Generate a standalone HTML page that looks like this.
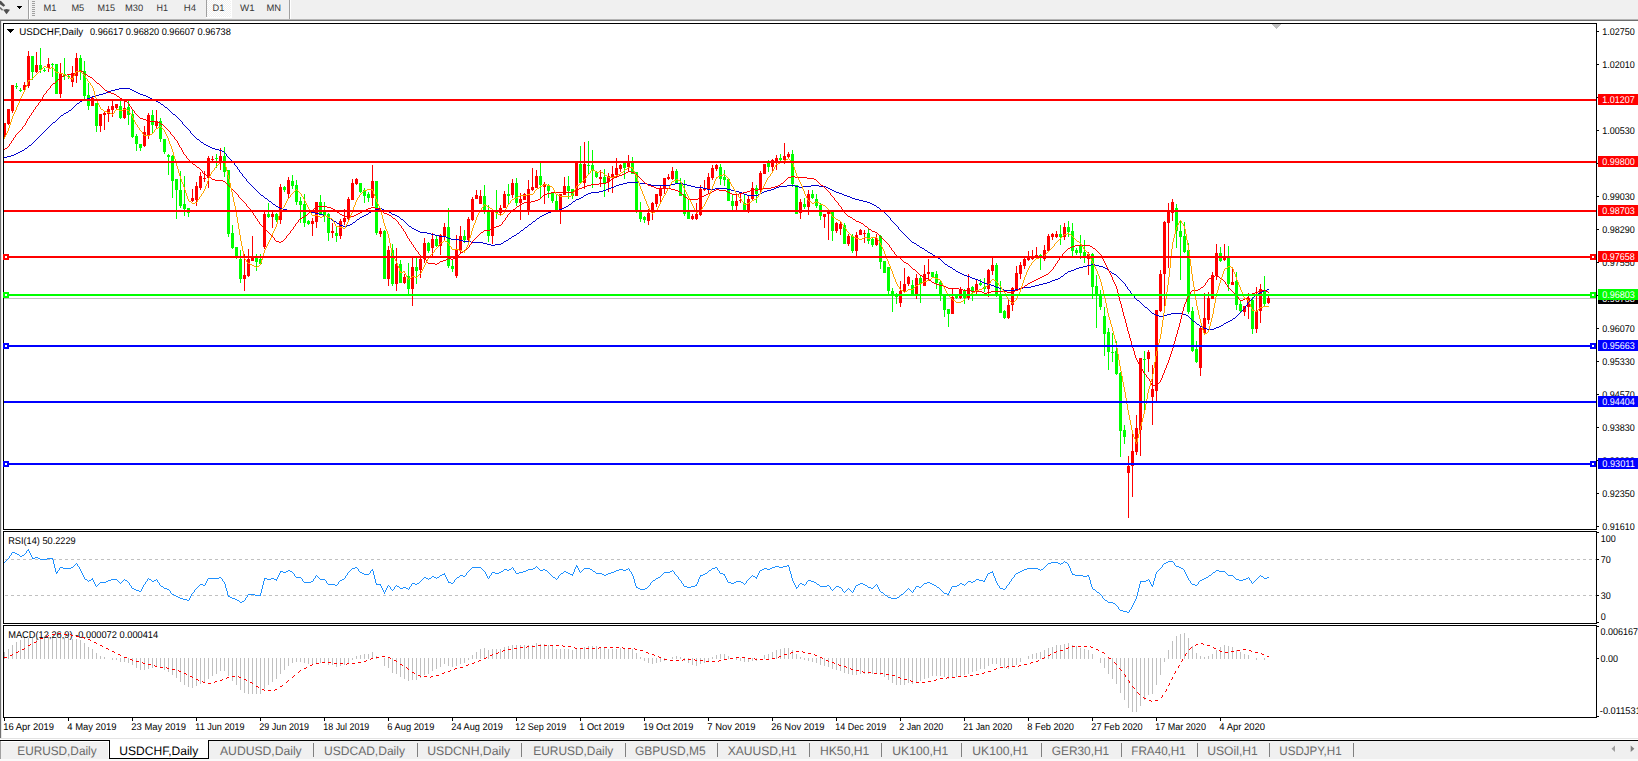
<!DOCTYPE html>
<html><head><meta charset="utf-8"><title>USDCHF,Daily</title>
<style>
html,body{margin:0;padding:0;background:#fff;overflow:hidden}
svg{display:block;font-family:"Liberation Sans", "DejaVu Sans", sans-serif;shape-rendering:crispEdges}
text{white-space:pre;text-rendering:geometricPrecision}
</style></head><body>
<svg width="1638" height="761" viewBox="0 0 1638 761">
<rect x="0" y="0" width="1638" height="761" fill="#ffffff"/>
<rect x="0" y="0" width="1638" height="19" fill="#f0f0f0"/>
<rect x="0" y="19" width="1638" height="1" fill="#b4b4b4"/>
<rect x="0" y="20" width="1638" height="1" fill="#6d6d6d"/>
<rect x="0" y="21" width="1" height="717" fill="#707070"/>
<rect x="1" y="21" width="1" height="717" fill="#e8e8e8"/>
<g shape-rendering="geometricPrecision"><path d="M-1 1.5 L0.8 0.8 L5.2 5.2 L3.6 6.8 L-1 3.4 Z" fill="#505050"/><path d="M0 7.6 L2.6 10.2" stroke="#707070" stroke-width="1.6"/><path d="M3.2 9.8 L6.5 9 L10 9.8 L6.5 14.2 Z" fill="#505050"/></g>
<path d="M17 6 L22 6 L19.5 9 Z" fill="#000"/>
<rect x="28" y="0" width="1" height="19" fill="#a0a0a0"/>
<rect x="29" y="0" width="1" height="19" fill="#ffffff"/>
<rect x="32" y="1" width="3" height="1" fill="#a0a0a0"/>
<rect x="32" y="3" width="3" height="1" fill="#a0a0a0"/>
<rect x="32" y="5" width="3" height="1" fill="#a0a0a0"/>
<rect x="32" y="7" width="3" height="1" fill="#a0a0a0"/>
<rect x="32" y="9" width="3" height="1" fill="#a0a0a0"/>
<rect x="32" y="11" width="3" height="1" fill="#a0a0a0"/>
<rect x="32" y="13" width="3" height="1" fill="#a0a0a0"/>
<rect x="32" y="15" width="3" height="1" fill="#a0a0a0"/>
<pattern id="chk" width="2" height="2" patternUnits="userSpaceOnUse"><rect width="2" height="2" fill="#f0f0f0"/><rect width="1" height="1" fill="#fff"/><rect x="1" y="1" width="1" height="1" fill="#fff"/></pattern>
<rect x="206" y="0" width="1" height="17" fill="#a0a0a0"/>
<rect x="207" y="0" width="24" height="17" fill="url(#chk)"/>
<rect x="231" y="0" width="1" height="18" fill="#fff"/>
<rect x="206" y="17" width="26" height="1" fill="#fff"/>
<rect x="289" y="0" width="1" height="19" fill="#a0a0a0"/>
<rect x="290" y="0" width="1" height="19" fill="#ffffff"/>
<text x="43.4" y="10.9" font-size="9.3" fill="#383838" text-anchor="start" textLength="13" lengthAdjust="spacingAndGlyphs">M1</text>
<text x="71.4" y="10.9" font-size="9.3" fill="#383838" text-anchor="start" textLength="12.8" lengthAdjust="spacingAndGlyphs">M5</text>
<text x="97.4" y="10.9" font-size="9.3" fill="#383838" text-anchor="start" textLength="17.6" lengthAdjust="spacingAndGlyphs">M15</text>
<text x="125" y="10.9" font-size="9.3" fill="#383838" text-anchor="start" textLength="18.2" lengthAdjust="spacingAndGlyphs">M30</text>
<text x="156.6" y="10.9" font-size="9.3" fill="#383838" text-anchor="start" textLength="11.5" lengthAdjust="spacingAndGlyphs">H1</text>
<text x="183.7" y="10.9" font-size="9.3" fill="#383838" text-anchor="start" textLength="12.3" lengthAdjust="spacingAndGlyphs">H4</text>
<text x="212.5" y="10.9" font-size="9.3" fill="#383838" text-anchor="start" textLength="11.9" lengthAdjust="spacingAndGlyphs">D1</text>
<text x="240" y="10.9" font-size="9.3" fill="#383838" text-anchor="start" textLength="14.6" lengthAdjust="spacingAndGlyphs">W1</text>
<text x="266.5" y="10.9" font-size="9.3" fill="#383838" text-anchor="start" textLength="14.6" lengthAdjust="spacingAndGlyphs">MN</text>
<rect x="3" y="23" width="1594" height="1" fill="#000"/>
<rect x="3" y="529" width="1594" height="1" fill="#000"/>
<rect x="3" y="23" width="1" height="507" fill="#000"/>
<rect x="3" y="531" width="1594" height="1" fill="#000"/>
<rect x="3" y="623" width="1594" height="1" fill="#000"/>
<rect x="3" y="531" width="1" height="93" fill="#000"/>
<rect x="3" y="625" width="1594" height="1" fill="#000"/>
<rect x="3" y="717" width="1594" height="1" fill="#000"/>
<rect x="3" y="625" width="1" height="93" fill="#000"/>
<rect x="1596" y="23" width="1" height="507" fill="#000"/>
<rect x="1596" y="531" width="1" height="93" fill="#000"/>
<rect x="1596" y="625" width="1" height="93" fill="#000"/>
<rect x="4" y="298" width="1592" height="1" fill="#c0c0c0"/>
<path d="M1271 24 L1281 24 L1276 29 Z" fill="#c0c0c0"/>
<path d="M4 123h1v16h-1zM4 123h2v12h-2zM8 109h1v16h-1zM7 109h3v15h-3zM12 85h1v28h-1zM11 85h3v26h-3zM24 82h1v8h-1zM23 85h3v5h-3zM28 51h1v37h-1zM27 56h3v30h-3zM36 52h1v21h-1zM35 65h3v7h-3zM48 58h1v14h-1zM47 64h3v4h-3zM60 63h1v35h-1zM59 74h3v20h-3zM72 66h1v21h-1zM71 73h3v9h-3zM76 53h1v30h-1zM75 58h3v18h-3zM92 96h1v10h-1zM91 98h3v8h-3zM100 114h1v18h-1zM99 114h3v12h-3zM104 112h1v18h-1zM103 113h3v2h-3zM108 106h1v16h-1zM107 109h3v5h-3zM112 101h1v16h-1zM111 106h3v4h-3zM116 104h1v5h-1zM115 104h3v4h-3zM124 101h1v18h-1zM123 108h3v10h-3zM144 126h1v21h-1zM143 132h3v14h-3zM148 113h1v26h-1zM147 115h3v21h-3zM156 110h1v18h-1zM155 121h3v5h-3zM192 189h1v13h-1zM191 198h3v3h-3zM196 182h1v24h-1zM195 186h3v14h-3zM200 172h1v18h-1zM199 176h3v12h-3zM204 171h1v11h-1zM203 178h3v1h-3zM208 156h1v32h-1zM207 158h3v20h-3zM212 156h1v5h-1zM211 159h3v1h-3zM220 148h1v22h-1zM219 156h3v7h-3zM244 254h1v37h-1zM243 275h3v4h-3zM248 249h1v28h-1zM247 259h3v17h-3zM252 236h1v25h-1zM251 258h3v3h-3zM264 212h1v37h-1zM263 214h3v33h-3zM272 212h1v16h-1zM271 214h3v3h-3zM280 184h1v40h-1zM279 187h3v33h-3zM288 177h1v21h-1zM287 180h3v14h-3zM312 218h1v18h-1zM311 221h3v3h-3zM316 202h1v26h-1zM315 202h3v20h-3zM332 223h1v15h-1zM331 231h3v2h-3zM340 219h1v20h-1zM339 221h3v15h-3zM344 209h1v16h-1zM343 218h3v4h-3zM348 197h1v23h-1zM347 199h3v20h-3zM352 179h1v21h-1zM351 183h3v17h-3zM356 178h1v7h-1zM355 179h3v5h-3zM372 165h1v41h-1zM371 181h3v17h-3zM380 228h1v9h-1zM379 231h3v3h-3zM388 246h1v40h-1zM387 250h3v29h-3zM396 248h1v43h-1zM395 264h3v20h-3zM404 274h1v10h-1zM403 277h3v6h-3zM412 258h1v48h-1zM411 267h3v22h-3zM420 258h1v20h-1zM419 259h3v11h-3zM424 238h1v25h-1zM423 243h3v16h-3zM432 233h1v23h-1zM431 239h3v9h-3zM440 234h1v21h-1zM439 235h3v11h-3zM444 223h1v17h-1zM443 227h3v10h-3zM456 235h1v43h-1zM455 250h3v26h-3zM460 226h1v28h-1zM459 236h3v15h-3zM468 217h1v24h-1zM467 219h3v21h-3zM472 197h1v24h-1zM471 199h3v21h-3zM476 190h1v9h-1zM475 195h3v4h-3zM480 190h1v14h-1zM479 196h3v8h-3zM492 210h1v34h-1zM491 210h3v26h-3zM500 205h1v11h-1zM499 208h3v5h-3zM504 191h1v17h-1zM503 194h3v14h-3zM512 179h1v19h-1zM511 183h3v12h-3zM520 193h1v27h-1zM519 199h3v4h-3zM524 193h1v7h-1zM523 194h3v6h-3zM528 180h1v35h-1zM527 189h3v21h-3zM532 168h1v23h-1zM531 187h3v3h-3zM536 170h1v18h-1zM535 176h3v12h-3zM544 182h1v22h-1zM543 184h3v3h-3zM560 194h1v30h-1zM559 194h3v15h-3zM564 177h1v18h-1zM563 186h3v9h-3zM576 163h1v33h-1zM575 163h3v33h-3zM584 142h1v47h-1zM583 164h3v19h-3zM600 170h1v17h-1zM599 177h3v2h-3zM608 173h1v19h-1zM607 176h3v6h-3zM612 166h1v27h-1zM611 174h3v3h-3zM616 158h1v20h-1zM615 168h3v7h-3zM620 164h1v8h-1zM619 165h3v4h-3zM628 155h1v16h-1zM627 162h3v5h-3zM648 209h1v16h-1zM647 213h3v8h-3zM652 202h1v18h-1zM651 203h3v10h-3zM656 194h1v13h-1zM655 194h3v10h-3zM660 185h1v18h-1zM659 188h3v8h-3zM664 178h1v16h-1zM663 178h3v11h-3zM668 174h1v6h-1zM667 177h3v2h-3zM672 167h1v13h-1zM671 171h3v8h-3zM692 214h1v6h-1zM691 216h3v3h-3zM696 203h1v17h-1zM695 214h3v5h-3zM700 185h1v31h-1zM699 189h3v26h-3zM704 180h1v11h-1zM703 188h3v2h-3zM708 173h1v20h-1zM707 177h3v12h-3zM712 165h1v15h-1zM711 168h3v10h-3zM716 164h1v7h-1zM715 165h3v4h-3zM736 194h1v16h-1zM735 201h3v5h-3zM740 193h1v10h-1zM739 200h3v1h-3zM748 196h1v17h-1zM747 199h3v12h-3zM752 182h1v19h-1zM751 188h3v11h-3zM760 171h1v22h-1zM759 173h3v17h-3zM764 164h1v10h-1zM763 164h3v10h-3zM772 159h1v12h-1zM771 160h3v7h-3zM776 155h1v15h-1zM775 158h3v5h-3zM784 143h1v21h-1zM783 156h3v4h-3zM788 152h1v6h-1zM787 154h3v3h-3zM800 199h1v20h-1zM799 202h3v11h-3zM808 190h1v25h-1zM807 194h3v13h-3zM824 214h1v14h-1zM823 214h3v3h-3zM828 211h1v29h-1zM827 212h3v2h-3zM836 222h1v11h-1zM835 223h3v8h-3zM840 222h1v13h-1zM839 224h3v5h-3zM848 234h1v12h-1zM847 236h3v8h-3zM856 232h1v24h-1zM855 235h3v16h-3zM860 229h1v6h-1zM859 230h3v5h-3zM864 230h1v13h-1zM863 233h3v1h-3zM876 234h1v12h-1zM875 238h3v7h-3zM900 281h1v26h-1zM899 291h3v12h-3zM904 268h1v25h-1zM903 284h3v7h-3zM908 276h1v10h-1zM907 277h3v7h-3zM916 274h1v25h-1zM915 278h3v16h-3zM924 265h1v21h-1zM923 274h3v12h-3zM928 259h1v20h-1zM927 272h3v2h-3zM952 288h1v26h-1zM951 297h3v17h-3zM960 287h1v12h-1zM959 290h3v8h-3zM968 274h1v26h-1zM967 288h3v10h-3zM976 280h1v14h-1zM975 284h3v7h-3zM988 269h1v28h-1zM987 270h3v19h-3zM992 258h1v17h-1zM991 265h3v6h-3zM1008 300h1v19h-1zM1007 305h3v13h-3zM1012 287h1v24h-1zM1011 288h3v17h-3zM1016 266h1v24h-1zM1015 273h3v17h-3zM1020 262h1v17h-1zM1019 265h3v9h-3zM1024 258h1v11h-1zM1023 259h3v7h-3zM1028 251h1v10h-1zM1027 256h3v4h-3zM1032 250h1v10h-1zM1031 256h3v3h-3zM1036 247h1v11h-1zM1035 255h3v3h-3zM1044 245h1v16h-1zM1043 250h3v9h-3zM1048 234h1v17h-1zM1047 236h3v15h-3zM1052 233h1v7h-1zM1051 234h3v3h-3zM1056 231h1v7h-1zM1055 234h3v3h-3zM1064 223h1v17h-1zM1063 227h3v10h-3zM1088 252h1v23h-1zM1087 254h3v5h-3zM1128 456h1v62h-1zM1127 466h3v7h-3zM1132 433h1v64h-1zM1131 451h3v15h-3zM1136 415h1v40h-1zM1135 428h3v24h-3zM1140 358h1v98h-1zM1139 358h3v72h-3zM1148 350h1v22h-1zM1147 352h3v7h-3zM1152 365h1v60h-1zM1151 389h3v8h-3zM1156 310h1v91h-1zM1155 310h3v81h-3zM1160 270h1v42h-1zM1159 274h3v37h-3zM1164 221h1v86h-1zM1163 222h3v52h-3zM1168 203h1v65h-1zM1167 210h3v13h-3zM1172 199h1v22h-1zM1171 202h3v11h-3zM1200 327h1v49h-1zM1199 328h3v40h-3zM1204 293h1v41h-1zM1203 318h3v15h-3zM1208 292h1v32h-1zM1207 298h3v22h-3zM1212 272h1v27h-1zM1211 275h3v24h-3zM1216 244h1v36h-1zM1215 253h3v23h-3zM1224 244h1v17h-1zM1223 258h3v2h-3zM1232 269h1v16h-1zM1231 282h3v3h-3zM1244 306h1v10h-1zM1243 306h3v6h-3zM1248 293h1v26h-1zM1247 298h3v9h-3zM1256 287h1v46h-1zM1255 311h3v18h-3zM1260 284h1v39h-1zM1259 289h3v22h-3zM1268 294h1v10h-1zM1267 298h3v5h-3z" fill="#ff0000"/>
<path d="M16 83h1v6h-1zM15 86h3v1h-3zM20 88h1v4h-1zM19 90h3v1h-3zM32 56h1v24h-1zM31 56h3v16h-3zM40 48h1v25h-1zM39 65h3v5h-3zM44 68h1v4h-1zM43 70h3v1h-3zM52 63h1v14h-1zM51 64h3v1h-3zM56 64h1v30h-1zM55 64h3v30h-3zM64 58h1v22h-1zM63 74h3v2h-3zM68 74h1v5h-1zM67 76h3v1h-3zM80 55h1v25h-1zM79 58h3v13h-3zM84 61h1v38h-1zM83 71h3v25h-3zM88 83h1v27h-1zM87 95h3v11h-3zM96 103h1v29h-1zM95 103h3v23h-3zM120 99h1v20h-1zM119 106h3v12h-3zM128 101h1v24h-1zM127 107h3v8h-3zM132 110h1v28h-1zM131 114h3v23h-3zM136 134h1v17h-1zM135 136h3v8h-3zM140 144h1v7h-1zM139 144h3v4h-3zM152 110h1v23h-1zM151 115h3v10h-3zM160 118h1v24h-1zM159 121h3v18h-3zM164 139h1v15h-1zM163 139h3v13h-3zM168 154h1v21h-1zM167 155h3v2h-3zM172 155h1v43h-1zM171 156h3v25h-3zM176 179h1v40h-1zM175 179h3v11h-3zM180 171h1v37h-1zM179 190h3v16h-3zM184 176h1v40h-1zM183 204h3v5h-3zM188 208h1v9h-1zM187 208h3v5h-3zM216 154h1v14h-1zM215 158h3v1h-3zM224 147h1v30h-1zM223 156h3v16h-3zM228 170h1v67h-1zM227 170h3v64h-3zM232 225h1v24h-1zM231 233h3v15h-3zM236 247h1v12h-1zM235 247h3v9h-3zM240 250h1v33h-1zM239 259h3v20h-3zM256 254h1v17h-1zM255 258h3v4h-3zM260 254h1v10h-1zM259 259h3v5h-3zM268 203h1v15h-1zM267 214h3v3h-3zM276 213h1v9h-1zM275 214h3v6h-3zM284 186h1v6h-1zM283 187h3v3h-3zM292 175h1v14h-1zM291 181h3v5h-3zM296 180h1v25h-1zM295 185h3v17h-3zM300 197h1v26h-1zM299 201h3v4h-3zM304 194h1v33h-1zM303 204h3v19h-3zM308 220h1v5h-1zM307 221h3v3h-3zM320 195h1v20h-1zM319 202h3v12h-3zM324 202h1v20h-1zM323 212h3v3h-3zM328 213h1v28h-1zM327 214h3v19h-3zM336 226h1v16h-1zM335 233h3v3h-3zM360 183h1v10h-1zM359 183h3v9h-3zM364 188h1v15h-1zM363 190h3v6h-3zM368 192h1v10h-1zM367 194h3v4h-3zM376 181h1v54h-1zM375 181h3v52h-3zM384 230h1v49h-1zM383 231h3v48h-3zM392 244h1v42h-1zM391 250h3v34h-3zM400 260h1v23h-1zM399 264h3v19h-3zM408 263h1v31h-1zM407 276h3v13h-3zM416 258h1v26h-1zM415 267h3v4h-3zM428 242h1v11h-1zM427 243h3v8h-3zM436 236h1v11h-1zM435 239h3v7h-3zM448 208h1v60h-1zM447 227h3v39h-3zM452 259h1v13h-1zM451 266h3v3h-3zM464 230h1v13h-1zM463 236h3v4h-3zM484 185h1v29h-1zM483 196h3v14h-3zM488 205h1v37h-1zM487 212h3v24h-3zM496 190h1v29h-1zM495 212h3v1h-3zM508 184h1v20h-1zM507 194h3v2h-3zM516 178h1v28h-1zM515 183h3v20h-3zM540 163h1v35h-1zM539 176h3v9h-3zM548 184h1v14h-1zM547 185h3v6h-3zM552 192h1v11h-1zM551 192h3v9h-3zM556 195h1v15h-1zM555 201h3v9h-3zM568 176h1v23h-1zM567 186h3v5h-3zM572 189h1v10h-1zM571 189h3v7h-3zM580 146h1v37h-1zM579 164h3v19h-3zM588 141h1v33h-1zM587 165h3v1h-3zM592 150h1v38h-1zM591 165h3v5h-3zM596 171h1v7h-1zM595 172h3v5h-3zM604 169h1v28h-1zM603 177h3v6h-3zM624 163h1v16h-1zM623 163h3v5h-3zM632 157h1v17h-1zM631 163h3v11h-3zM636 172h1v41h-1zM635 172h3v39h-3zM640 202h1v20h-1zM639 211h3v8h-3zM644 216h1v7h-1zM643 217h3v3h-3zM676 169h1v14h-1zM675 171h3v12h-3zM680 178h1v18h-1zM679 183h3v13h-3zM684 180h1v36h-1zM683 194h3v20h-3zM688 200h1v19h-1zM687 212h3v7h-3zM720 164h1v21h-1zM719 167h3v12h-3zM724 170h1v16h-1zM723 177h3v3h-3zM728 179h1v22h-1zM727 179h3v22h-3zM732 195h1v15h-1zM731 201h3v5h-3zM744 194h1v16h-1zM743 203h3v7h-3zM756 185h1v18h-1zM755 188h3v6h-3zM768 160h1v12h-1zM767 163h3v4h-3zM780 154h1v7h-1zM779 158h3v2h-3zM792 150h1v37h-1zM791 154h3v30h-3zM796 185h1v29h-1zM795 185h3v29h-3zM804 198h1v11h-1zM803 204h3v3h-3zM812 190h1v9h-1zM811 194h3v4h-3zM816 194h1v14h-1zM815 199h3v7h-3zM820 203h1v17h-1zM819 205h3v11h-3zM832 212h1v29h-1zM831 212h3v19h-3zM844 223h1v21h-1zM843 225h3v19h-3zM852 234h1v19h-1zM851 236h3v15h-3zM868 229h1v15h-1zM867 233h3v8h-3zM872 238h1v9h-1zM871 239h3v6h-3zM880 235h1v34h-1zM879 236h3v26h-3zM884 261h1v12h-1zM883 261h3v12h-3zM888 267h1v27h-1zM887 267h3v24h-3zM892 288h1v24h-1zM891 291h3v4h-3zM896 293h1v11h-1zM895 295h3v2h-3zM912 280h1v14h-1zM911 285h3v9h-3zM920 275h1v28h-1zM919 278h3v6h-3zM932 272h1v5h-1zM931 272h3v5h-3zM936 271h1v18h-1zM935 274h3v9h-3zM940 280h1v21h-1zM939 282h3v12h-3zM944 294h1v23h-1zM943 295h3v15h-3zM948 309h1v18h-1zM947 309h3v5h-3zM956 296h1v3h-1zM955 296h3v2h-3zM964 289h1v15h-1zM963 291h3v7h-3zM972 286h1v15h-1zM971 287h3v4h-3zM980 279h1v7h-1zM979 283h3v2h-3zM984 278h1v14h-1zM983 287h3v2h-3zM996 263h1v34h-1zM995 265h3v29h-3zM1000 281h1v32h-1zM999 294h3v19h-3zM1004 310h1v9h-1zM1003 311h3v7h-3zM1040 254h1v16h-1zM1039 255h3v3h-3zM1060 225h1v20h-1zM1059 234h3v3h-3zM1068 221h1v16h-1zM1067 227h3v5h-3zM1072 223h1v33h-1zM1071 231h3v20h-3zM1076 248h1v7h-1zM1075 250h3v3h-3zM1080 235h1v24h-1zM1079 245h3v8h-3zM1084 240h1v23h-1zM1083 252h3v4h-3zM1092 253h1v46h-1zM1091 254h3v33h-3zM1096 275h1v53h-1zM1095 286h3v8h-3zM1100 290h1v20h-1zM1099 294h3v13h-3zM1104 307h1v49h-1zM1103 316h3v18h-3zM1108 328h1v42h-1zM1107 332h3v20h-3zM1112 333h1v29h-1zM1111 352h3v1h-3zM1116 341h1v34h-1zM1115 351h3v23h-3zM1120 372h1v85h-1zM1119 373h3v58h-3zM1124 425h1v19h-1zM1123 430h3v7h-3zM1144 351h1v59h-1zM1143 359h3v1h-3zM1176 204h1v44h-1zM1175 208h3v23h-3zM1180 220h1v60h-1zM1179 231h3v6h-3zM1184 222h1v31h-1zM1183 236h3v16h-3zM1188 243h1v71h-1zM1187 250h3v62h-3zM1192 307h1v45h-1zM1191 311h3v40h-3zM1196 341h1v22h-1zM1195 349h3v13h-3zM1220 247h1v15h-1zM1219 253h3v8h-3zM1228 246h1v45h-1zM1227 258h3v26h-3zM1236 272h1v38h-1zM1235 281h3v24h-3zM1240 300h1v12h-1zM1239 304h3v7h-3zM1252 297h1v37h-1zM1251 300h3v29h-3zM1264 276h1v30h-1zM1263 291h3v13h-3z" fill="#00ff00"/>
<path d="M182 122h1v2h-1zM190 131h1v2h-1zM226 154h1v2h-1zM234 163h1v2h-1zM237 167h1v2h-1zM239 170h1v2h-1zM242 174h1v2h-1zM246 179h1v2h-1zM890 218h1v2h-1zM898 227h1v2h-1zM1125 284h1v2h-1zM1127 287h1v2h-1zM1130 291h1v2h-1zM1134 296h1v2h-1zM1245 306h1v2h-1zM1247 303h1v2h-1zM119 88h11v1h-11zM115 89h4v1h-4zM130 89h2v1h-2zM111 90h4v1h-4zM132 90h2v1h-2zM108 91h3v1h-3zM134 91h2v1h-2zM106 92h2v1h-2zM136 92h2v1h-2zM103 93h3v1h-3zM138 93h2v1h-2zM99 94h4v1h-4zM140 94h3v1h-3zM95 95h4v1h-4zM143 95h3v1h-3zM92 96h3v1h-3zM146 96h2v1h-2zM90 97h2v1h-2zM148 97h2v1h-2zM87 98h3v1h-3zM150 98h2v1h-2zM84 99h3v1h-3zM152 99h2v1h-2zM82 100h2v1h-2zM154 100h2v1h-2zM80 101h2v1h-2zM156 101h2v1h-2zM79 102h1v1h-1zM158 102h2v1h-2zM77 103h2v1h-2zM160 103h1v1h-1zM76 104h1v1h-1zM161 104h2v1h-2zM75 105h1v1h-1zM163 105h1v1h-1zM74 106h1v1h-1zM164 106h1v1h-1zM73 107h1v1h-1zM165 107h2v1h-2zM72 108h1v1h-1zM167 108h1v1h-1zM71 109h1v1h-1zM168 109h1v1h-1zM69 110h2v1h-2zM169 110h1v1h-1zM68 111h1v1h-1zM170 111h1v1h-1zM66 112h2v1h-2zM171 112h1v1h-1zM64 113h2v1h-2zM172 113h1v1h-1zM63 114h1v1h-1zM173 114h2v1h-2zM61 115h2v1h-2zM175 115h1v1h-1zM60 116h1v1h-1zM176 116h1v1h-1zM59 117h1v1h-1zM177 117h1v1h-1zM58 118h1v1h-1zM178 118h1v1h-1zM57 119h1v1h-1zM179 119h1v1h-1zM56 120h1v1h-1zM180 120h1v1h-1zM55 121h1v1h-1zM181 121h1v1h-1zM53 122h2v1h-2zM52 123h1v1h-1zM51 124h1v1h-1zM183 124h1v1h-1zM50 125h1v1h-1zM184 125h1v1h-1zM49 126h1v1h-1zM185 126h1v1h-1zM48 127h1v1h-1zM186 127h1v1h-1zM47 128h1v1h-1zM187 128h1v1h-1zM46 129h1v1h-1zM188 129h1v1h-1zM45 130h1v1h-1zM189 130h1v1h-1zM44 131h1v1h-1zM43 132h1v1h-1zM42 133h1v1h-1zM191 133h1v1h-1zM41 134h1v1h-1zM192 134h1v1h-1zM40 135h1v1h-1zM193 135h1v1h-1zM39 136h1v1h-1zM194 136h1v1h-1zM38 137h1v1h-1zM195 137h1v1h-1zM37 138h1v1h-1zM196 138h1v1h-1zM36 139h1v1h-1zM197 139h2v1h-2zM35 140h1v1h-1zM199 140h1v1h-1zM34 141h1v1h-1zM200 141h1v1h-1zM33 142h1v1h-1zM201 142h2v1h-2zM32 143h1v1h-1zM203 143h1v1h-1zM31 144h1v1h-1zM204 144h2v1h-2zM29 145h2v1h-2zM206 145h2v1h-2zM28 146h1v1h-1zM208 146h2v1h-2zM27 147h1v1h-1zM210 147h2v1h-2zM25 148h2v1h-2zM212 148h3v1h-3zM24 149h1v1h-1zM215 149h4v1h-4zM22 150h2v1h-2zM219 150h3v1h-3zM20 151h2v1h-2zM222 151h2v1h-2zM18 152h2v1h-2zM224 152h1v1h-1zM16 153h2v1h-2zM225 153h1v1h-1zM14 154h2v1h-2zM11 155h3v1h-3zM7 156h4v1h-4zM227 156h1v1h-1zM4 157h3v1h-3zM228 157h1v1h-1zM229 158h1v1h-1zM230 159h1v1h-1zM231 160h1v1h-1zM232 161h1v1h-1zM233 162h1v1h-1zM235 165h1v1h-1zM236 166h1v1h-1zM238 169h1v1h-1zM240 172h1v1h-1zM241 173h1v1h-1zM243 176h1v1h-1zM244 177h1v1h-1zM245 178h1v1h-1zM247 181h1v1h-1zM248 182h1v1h-1zM627 182h12v1h-12zM249 183h1v1h-1zM623 183h4v1h-4zM639 183h8v1h-8zM675 183h8v1h-8zM250 184h1v1h-1zM619 184h4v1h-4zM647 184h4v1h-4zM671 184h4v1h-4zM683 184h4v1h-4zM251 185h1v1h-1zM616 185h3v1h-3zM651 185h20v1h-20zM687 185h4v1h-4zM787 185h8v1h-8zM811 185h8v1h-8zM252 186h1v1h-1zM614 186h2v1h-2zM691 186h4v1h-4zM779 186h8v1h-8zM795 186h4v1h-4zM803 186h8v1h-8zM819 186h7v1h-7zM253 187h1v1h-1zM611 187h3v1h-3zM695 187h8v1h-8zM776 187h3v1h-3zM799 187h4v1h-4zM826 187h2v1h-2zM254 188h1v1h-1zM608 188h3v1h-3zM703 188h4v1h-4zM715 188h12v1h-12zM774 188h2v1h-2zM828 188h2v1h-2zM255 189h1v1h-1zM606 189h2v1h-2zM707 189h8v1h-8zM727 189h4v1h-4zM771 189h3v1h-3zM830 189h2v1h-2zM256 190h1v1h-1zM603 190h3v1h-3zM731 190h4v1h-4zM767 190h4v1h-4zM832 190h2v1h-2zM257 191h1v1h-1zM599 191h4v1h-4zM735 191h4v1h-4zM764 191h3v1h-3zM834 191h2v1h-2zM258 192h1v1h-1zM591 192h8v1h-8zM739 192h3v1h-3zM762 192h2v1h-2zM836 192h3v1h-3zM259 193h1v1h-1zM588 193h3v1h-3zM742 193h2v1h-2zM760 193h2v1h-2zM839 193h3v1h-3zM260 194h1v1h-1zM586 194h2v1h-2zM744 194h3v1h-3zM758 194h2v1h-2zM842 194h2v1h-2zM261 195h2v1h-2zM584 195h2v1h-2zM747 195h11v1h-11zM844 195h3v1h-3zM263 196h1v1h-1zM583 196h1v1h-1zM847 196h3v1h-3zM264 197h1v1h-1zM581 197h2v1h-2zM850 197h2v1h-2zM265 198h2v1h-2zM579 198h2v1h-2zM852 198h3v1h-3zM267 199h1v1h-1zM576 199h3v1h-3zM855 199h4v1h-4zM268 200h1v1h-1zM575 200h1v1h-1zM859 200h4v1h-4zM269 201h2v1h-2zM573 201h2v1h-2zM863 201h4v1h-4zM271 202h1v1h-1zM572 202h1v1h-1zM867 202h3v1h-3zM272 203h1v1h-1zM571 203h1v1h-1zM870 203h2v1h-2zM273 204h2v1h-2zM569 204h2v1h-2zM872 204h2v1h-2zM275 205h1v1h-1zM568 205h1v1h-1zM874 205h2v1h-2zM276 206h2v1h-2zM566 206h2v1h-2zM876 206h1v1h-1zM278 207h2v1h-2zM564 207h2v1h-2zM877 207h2v1h-2zM280 208h3v1h-3zM379 208h3v1h-3zM562 208h2v1h-2zM879 208h1v1h-1zM283 209h4v1h-4zM375 209h4v1h-4zM382 209h2v1h-2zM559 209h3v1h-3zM880 209h1v1h-1zM287 210h16v1h-16zM372 210h3v1h-3zM384 210h3v1h-3zM555 210h4v1h-4zM881 210h2v1h-2zM303 211h8v1h-8zM371 211h1v1h-1zM387 211h2v1h-2zM551 211h4v1h-4zM883 211h1v1h-1zM311 212h4v1h-4zM369 212h2v1h-2zM389 212h2v1h-2zM548 212h3v1h-3zM884 212h1v1h-1zM315 213h4v1h-4zM368 213h1v1h-1zM391 213h1v1h-1zM546 213h2v1h-2zM885 213h1v1h-1zM319 214h4v1h-4zM366 214h2v1h-2zM392 214h3v1h-3zM544 214h2v1h-2zM886 214h1v1h-1zM323 215h3v1h-3zM364 215h2v1h-2zM395 215h2v1h-2zM542 215h2v1h-2zM887 215h1v1h-1zM326 216h2v1h-2zM362 216h2v1h-2zM397 216h2v1h-2zM540 216h2v1h-2zM888 216h1v1h-1zM328 217h1v1h-1zM360 217h2v1h-2zM399 217h1v1h-1zM539 217h1v1h-1zM889 217h1v1h-1zM329 218h2v1h-2zM359 218h1v1h-1zM400 218h1v1h-1zM537 218h2v1h-2zM331 219h1v1h-1zM357 219h2v1h-2zM401 219h2v1h-2zM536 219h1v1h-1zM332 220h2v1h-2zM356 220h1v1h-1zM403 220h1v1h-1zM535 220h1v1h-1zM891 220h1v1h-1zM334 221h2v1h-2zM355 221h1v1h-1zM404 221h1v1h-1zM533 221h2v1h-2zM892 221h1v1h-1zM336 222h1v1h-1zM353 222h2v1h-2zM405 222h1v1h-1zM532 222h1v1h-1zM893 222h1v1h-1zM337 223h2v1h-2zM352 223h1v1h-1zM406 223h1v1h-1zM531 223h1v1h-1zM894 223h1v1h-1zM339 224h1v1h-1zM350 224h2v1h-2zM407 224h1v1h-1zM529 224h2v1h-2zM895 224h1v1h-1zM340 225h3v1h-3zM347 225h3v1h-3zM408 225h1v1h-1zM528 225h1v1h-1zM896 225h1v1h-1zM343 226h4v1h-4zM409 226h2v1h-2zM527 226h1v1h-1zM897 226h1v1h-1zM411 227h1v1h-1zM525 227h2v1h-2zM412 228h2v1h-2zM524 228h1v1h-1zM414 229h2v1h-2zM523 229h1v1h-1zM899 229h1v1h-1zM416 230h2v1h-2zM521 230h2v1h-2zM900 230h1v1h-1zM418 231h2v1h-2zM520 231h1v1h-1zM901 231h1v1h-1zM420 232h7v1h-7zM519 232h1v1h-1zM902 232h1v1h-1zM427 233h4v1h-4zM517 233h2v1h-2zM903 233h1v1h-1zM431 234h4v1h-4zM516 234h1v1h-1zM904 234h1v1h-1zM435 235h4v1h-4zM514 235h2v1h-2zM905 235h1v1h-1zM439 236h7v1h-7zM512 236h2v1h-2zM906 236h1v1h-1zM446 237h2v1h-2zM511 237h1v1h-1zM907 237h1v1h-1zM448 238h3v1h-3zM509 238h2v1h-2zM908 238h1v1h-1zM451 239h8v1h-8zM508 239h1v1h-1zM909 239h1v1h-1zM459 240h4v1h-4zM506 240h2v1h-2zM910 240h1v1h-1zM463 241h8v1h-8zM504 241h2v1h-2zM911 241h1v1h-1zM471 242h12v1h-12zM503 242h1v1h-1zM912 242h2v1h-2zM483 243h4v1h-4zM501 243h2v1h-2zM914 243h2v1h-2zM487 244h4v1h-4zM495 244h6v1h-6zM916 244h1v1h-1zM491 245h4v1h-4zM917 245h2v1h-2zM919 246h1v1h-1zM920 247h2v1h-2zM922 248h2v1h-2zM924 249h1v1h-1zM925 250h2v1h-2zM927 251h1v1h-1zM928 252h2v1h-2zM930 253h2v1h-2zM932 254h1v1h-1zM933 255h2v1h-2zM935 256h1v1h-1zM936 257h2v1h-2zM938 258h2v1h-2zM940 259h1v1h-1zM941 260h1v1h-1zM942 261h1v1h-1zM943 262h1v1h-1zM944 263h1v1h-1zM945 264h2v1h-2zM1091 264h4v1h-4zM947 265h1v1h-1zM1087 265h4v1h-4zM1095 265h4v1h-4zM948 266h2v1h-2zM1083 266h4v1h-4zM1099 266h4v1h-4zM950 267h2v1h-2zM1079 267h4v1h-4zM1103 267h2v1h-2zM952 268h1v1h-1zM1076 268h3v1h-3zM1105 268h2v1h-2zM953 269h2v1h-2zM1074 269h2v1h-2zM1107 269h1v1h-1zM955 270h1v1h-1zM1071 270h3v1h-3zM1108 270h1v1h-1zM956 271h2v1h-2zM1068 271h3v1h-3zM1109 271h2v1h-2zM958 272h2v1h-2zM1067 272h1v1h-1zM1111 272h1v1h-1zM960 273h2v1h-2zM1065 273h2v1h-2zM1112 273h2v1h-2zM962 274h2v1h-2zM1064 274h1v1h-1zM1114 274h2v1h-2zM964 275h3v1h-3zM1063 275h1v1h-1zM1116 275h1v1h-1zM967 276h3v1h-3zM1061 276h2v1h-2zM1117 276h1v1h-1zM970 277h2v1h-2zM1060 277h1v1h-1zM1118 277h1v1h-1zM972 278h3v1h-3zM1058 278h2v1h-2zM1119 278h1v1h-1zM975 279h3v1h-3zM1055 279h3v1h-3zM1120 279h1v1h-1zM978 280h2v1h-2zM1052 280h3v1h-3zM1121 280h1v1h-1zM980 281h2v1h-2zM1050 281h2v1h-2zM1122 281h1v1h-1zM982 282h2v1h-2zM1047 282h3v1h-3zM1123 282h1v1h-1zM984 283h3v1h-3zM1043 283h4v1h-4zM1124 283h1v1h-1zM987 284h4v1h-4zM1039 284h4v1h-4zM991 285h3v1h-3zM1035 285h4v1h-4zM994 286h2v1h-2zM1031 286h4v1h-4zM1126 286h1v1h-1zM996 287h3v1h-3zM1023 287h8v1h-8zM999 288h3v1h-3zM1019 288h4v1h-4zM1002 289h2v1h-2zM1015 289h4v1h-4zM1128 289h1v1h-1zM1267 289h2v1h-2zM1004 290h11v1h-11zM1129 290h1v1h-1zM1264 290h3v1h-3zM1262 291h2v1h-2zM1260 292h2v1h-2zM1131 293h1v1h-1zM1258 293h2v1h-2zM1132 294h1v1h-1zM1256 294h2v1h-2zM1133 295h1v1h-1zM1255 295h1v1h-1zM1254 296h1v1h-1zM1253 297h1v1h-1zM1135 298h1v1h-1zM1252 298h1v1h-1zM1136 299h1v1h-1zM1251 299h1v1h-1zM1137 300h2v1h-2zM1250 300h1v1h-1zM1139 301h1v1h-1zM1249 301h1v1h-1zM1140 302h1v1h-1zM1248 302h1v1h-1zM1141 303h1v1h-1zM1142 304h1v1h-1zM1143 305h1v1h-1zM1246 305h1v1h-1zM1144 306h1v1h-1zM1145 307h2v1h-2zM1147 308h1v1h-1zM1244 308h1v1h-1zM1148 309h1v1h-1zM1243 309h1v1h-1zM1149 310h1v1h-1zM1242 310h1v1h-1zM1150 311h1v1h-1zM1241 311h1v1h-1zM1151 312h1v1h-1zM1240 312h1v1h-1zM1152 313h2v1h-2zM1171 313h12v1h-12zM1239 313h1v1h-1zM1154 314h2v1h-2zM1167 314h4v1h-4zM1183 314h3v1h-3zM1238 314h1v1h-1zM1156 315h3v1h-3zM1163 315h4v1h-4zM1186 315h2v1h-2zM1237 315h1v1h-1zM1159 316h4v1h-4zM1188 316h1v1h-1zM1236 316h1v1h-1zM1189 317h1v1h-1zM1235 317h1v1h-1zM1190 318h1v1h-1zM1233 318h2v1h-2zM1191 319h1v1h-1zM1232 319h1v1h-1zM1192 320h1v1h-1zM1230 320h2v1h-2zM1193 321h2v1h-2zM1228 321h2v1h-2zM1195 322h1v1h-1zM1226 322h2v1h-2zM1196 323h1v1h-1zM1224 323h2v1h-2zM1197 324h2v1h-2zM1223 324h1v1h-1zM1199 325h1v1h-1zM1221 325h2v1h-2zM1200 326h2v1h-2zM1219 326h2v1h-2zM1202 327h2v1h-2zM1216 327h3v1h-3zM1204 328h3v1h-3zM1214 328h2v1h-2zM1207 329h7v1h-7z" fill="#0000cd"/>
<path d="M9 144h1v2h-1zM11 141h1v2h-1zM13 138h1v2h-1zM15 135h1v2h-1zM22 127h1v2h-1zM25 123h1v2h-1zM26 121h1v2h-1zM27 119h1v2h-1zM29 116h1v2h-1zM31 113h1v2h-1zM33 110h1v2h-1zM35 107h1v2h-1zM38 103h1v2h-1zM41 99h1v2h-1zM42 97h1v2h-1zM43 95h1v2h-1zM46 91h1v2h-1zM50 86h1v2h-1zM129 104h1v2h-1zM131 107h1v2h-1zM134 111h1v2h-1zM170 132h1v2h-1zM174 137h1v2h-1zM177 141h1v2h-1zM178 143h1v2h-1zM179 145h1v2h-1zM181 148h1v2h-1zM182 150h1v2h-1zM183 152h1v2h-1zM186 156h1v2h-1zM202 171h1v2h-1zM238 195h1v2h-1zM246 204h1v2h-1zM250 209h1v2h-1zM253 213h1v2h-1zM255 216h1v2h-1zM257 219h1v2h-1zM259 222h1v2h-1zM274 238h1v2h-1zM286 236h1v2h-1zM290 231h1v2h-1zM293 227h1v2h-1zM295 224h1v2h-1zM298 220h1v2h-1zM398 222h1v2h-1zM401 226h1v2h-1zM403 229h1v2h-1zM405 232h1v2h-1zM406 234h1v2h-1zM407 236h1v2h-1zM409 239h1v2h-1zM411 242h1v2h-1zM413 245h1v2h-1zM415 248h1v2h-1zM418 252h1v2h-1zM426 260h1v2h-1zM469 245h1v2h-1zM471 242h1v2h-1zM502 222h1v2h-1zM505 218h1v2h-1zM507 215h1v2h-1zM830 193h1v2h-1zM834 198h1v2h-1zM838 203h1v2h-1zM841 207h1v2h-1zM843 210h1v2h-1zM889 245h1v2h-1zM891 248h1v2h-1zM894 252h1v2h-1zM1053 267h1v2h-1zM1055 264h1v2h-1zM1057 261h1v2h-1zM1059 258h1v2h-1zM1062 254h1v2h-1zM1101 255h1v2h-1zM1102 257h1v2h-1zM1103 259h1v2h-1zM1104 261h1v2h-1zM1105 263h1v2h-1zM1106 265h1v2h-1zM1107 267h1v2h-1zM1108 269h1v2h-1zM1109 271h1v2h-1zM1110 273h1v2h-1zM1111 275h1v2h-1zM1112 277h1v3h-1zM1113 280h1v2h-1zM1114 282h1v2h-1zM1115 284h1v2h-1zM1116 286h1v3h-1zM1117 289h1v4h-1zM1118 293h1v4h-1zM1119 297h1v4h-1zM1120 301h1v3h-1zM1121 304h1v4h-1zM1122 308h1v4h-1zM1123 312h1v4h-1zM1124 316h1v3h-1zM1125 319h1v4h-1zM1126 323h1v4h-1zM1127 327h1v4h-1zM1128 331h1v3h-1zM1129 334h1v4h-1zM1130 338h1v3h-1zM1131 341h1v4h-1zM1132 345h1v3h-1zM1133 348h1v3h-1zM1134 351h1v4h-1zM1135 355h1v3h-1zM1136 358h1v2h-1zM1137 360h1v2h-1zM1138 362h1v2h-1zM1139 364h1v2h-1zM1141 367h1v2h-1zM1142 369h1v2h-1zM1143 371h1v2h-1zM1146 375h1v2h-1zM1149 379h1v2h-1zM1150 381h1v2h-1zM1151 383h1v2h-1zM1160 380h1v2h-1zM1161 378h1v2h-1zM1162 375h1v3h-1zM1163 373h1v2h-1zM1164 370h1v3h-1zM1165 368h1v2h-1zM1166 365h1v3h-1zM1167 363h1v2h-1zM1168 360h1v3h-1zM1169 357h1v3h-1zM1170 354h1v3h-1zM1171 351h1v3h-1zM1172 348h1v3h-1zM1173 344h1v4h-1zM1174 341h1v3h-1zM1175 337h1v4h-1zM1176 334h1v3h-1zM1177 330h1v4h-1zM1178 327h1v3h-1zM1179 323h1v4h-1zM1180 319h1v4h-1zM1181 315h1v4h-1zM1182 311h1v4h-1zM1183 307h1v4h-1zM1184 304h1v3h-1zM1185 302h1v2h-1zM1186 299h1v3h-1zM1187 297h1v2h-1zM1188 295h1v2h-1zM1190 292h1v2h-1zM1205 283h1v2h-1zM1207 280h1v2h-1zM1225 282h1v2h-1zM1227 285h1v2h-1zM1238 297h1v2h-1zM79 70h2v1h-2zM76 71h3v1h-3zM81 71h2v1h-2zM75 72h1v1h-1zM83 72h1v1h-1zM73 73h2v1h-2zM84 73h1v1h-1zM67 74h6v1h-6zM85 74h2v1h-2zM64 75h3v1h-3zM87 75h1v1h-1zM62 76h2v1h-2zM88 76h2v1h-2zM60 77h2v1h-2zM90 77h2v1h-2zM59 78h1v1h-1zM92 78h1v1h-1zM58 79h1v1h-1zM93 79h1v1h-1zM57 80h1v1h-1zM94 80h1v1h-1zM56 81h1v1h-1zM95 81h1v1h-1zM55 82h1v1h-1zM96 82h1v1h-1zM53 83h2v1h-2zM97 83h2v1h-2zM52 84h1v1h-1zM99 84h1v1h-1zM51 85h1v1h-1zM100 85h1v1h-1zM101 86h1v1h-1zM102 87h1v1h-1zM49 88h1v1h-1zM103 88h1v1h-1zM48 89h1v1h-1zM104 89h1v1h-1zM47 90h1v1h-1zM105 90h2v1h-2zM107 91h1v1h-1zM108 92h3v1h-3zM45 93h1v1h-1zM111 93h3v1h-3zM44 94h1v1h-1zM114 94h2v1h-2zM116 95h1v1h-1zM117 96h2v1h-2zM119 97h1v1h-1zM120 98h2v1h-2zM122 99h2v1h-2zM124 100h1v1h-1zM40 101h1v1h-1zM125 101h2v1h-2zM39 102h1v1h-1zM127 102h1v1h-1zM128 103h1v1h-1zM37 105h1v1h-1zM36 106h1v1h-1zM130 106h1v1h-1zM34 109h1v1h-1zM132 109h1v1h-1zM133 110h1v1h-1zM32 112h1v1h-1zM135 113h1v1h-1zM136 114h1v1h-1zM30 115h1v1h-1zM137 115h1v1h-1zM138 116h1v1h-1zM139 117h1v1h-1zM28 118h1v1h-1zM140 118h3v1h-3zM143 119h3v1h-3zM146 120h2v1h-2zM148 121h10v1h-10zM158 122h2v1h-2zM160 123h1v1h-1zM161 124h2v1h-2zM24 125h1v1h-1zM163 125h1v1h-1zM23 126h1v1h-1zM164 126h1v1h-1zM165 127h1v1h-1zM166 128h1v1h-1zM21 129h1v1h-1zM167 129h1v1h-1zM20 130h1v1h-1zM168 130h1v1h-1zM19 131h1v1h-1zM169 131h1v1h-1zM18 132h1v1h-1zM17 133h1v1h-1zM16 134h1v1h-1zM171 134h1v1h-1zM172 135h1v1h-1zM173 136h1v1h-1zM14 137h1v1h-1zM175 139h1v1h-1zM12 140h1v1h-1zM176 140h1v1h-1zM10 143h1v1h-1zM8 146h1v1h-1zM7 147h1v1h-1zM180 147h1v1h-1zM5 148h2v1h-2zM4 149h1v1h-1zM184 154h1v1h-1zM185 155h1v1h-1zM187 158h1v1h-1zM188 159h1v1h-1zM189 160h1v1h-1zM190 161h1v1h-1zM191 162h1v1h-1zM192 163h1v1h-1zM193 164h2v1h-2zM195 165h1v1h-1zM196 166h1v1h-1zM197 167h2v1h-2zM199 168h1v1h-1zM200 169h1v1h-1zM201 170h1v1h-1zM628 171h3v1h-3zM626 172h2v1h-2zM631 172h3v1h-3zM203 173h1v1h-1zM624 173h2v1h-2zM634 173h2v1h-2zM204 174h2v1h-2zM622 174h2v1h-2zM636 174h1v1h-1zM206 175h2v1h-2zM619 175h3v1h-3zM637 175h1v1h-1zM208 176h1v1h-1zM616 176h3v1h-3zM638 176h1v1h-1zM791 176h4v1h-4zM209 177h2v1h-2zM614 177h2v1h-2zM639 177h1v1h-1zM788 177h3v1h-3zM795 177h12v1h-12zM211 178h1v1h-1zM612 178h2v1h-2zM640 178h1v1h-1zM787 178h1v1h-1zM807 178h7v1h-7zM212 179h3v1h-3zM611 179h1v1h-1zM641 179h1v1h-1zM786 179h1v1h-1zM814 179h2v1h-2zM215 180h8v1h-8zM609 180h2v1h-2zM642 180h1v1h-1zM785 180h1v1h-1zM816 180h1v1h-1zM223 181h2v1h-2zM608 181h1v1h-1zM643 181h1v1h-1zM784 181h1v1h-1zM817 181h1v1h-1zM225 182h1v1h-1zM606 182h2v1h-2zM644 182h1v1h-1zM783 182h1v1h-1zM818 182h1v1h-1zM226 183h1v1h-1zM599 183h7v1h-7zM645 183h2v1h-2zM781 183h2v1h-2zM819 183h1v1h-1zM227 184h1v1h-1zM591 184h8v1h-8zM647 184h1v1h-1zM780 184h1v1h-1zM820 184h1v1h-1zM228 185h1v1h-1zM587 185h4v1h-4zM648 185h3v1h-3zM778 185h2v1h-2zM821 185h2v1h-2zM229 186h1v1h-1zM584 186h3v1h-3zM651 186h3v1h-3zM775 186h3v1h-3zM823 186h1v1h-1zM230 187h1v1h-1zM582 187h2v1h-2zM654 187h2v1h-2zM771 187h4v1h-4zM824 187h1v1h-1zM231 188h1v1h-1zM579 188h3v1h-3zM656 188h15v1h-15zM760 188h11v1h-11zM825 188h1v1h-1zM232 189h1v1h-1zM576 189h3v1h-3zM671 189h4v1h-4zM716 189h3v1h-3zM752 189h3v1h-3zM758 189h2v1h-2zM826 189h1v1h-1zM233 190h1v1h-1zM575 190h1v1h-1zM675 190h3v1h-3zM714 190h2v1h-2zM719 190h7v1h-7zM750 190h2v1h-2zM755 190h3v1h-3zM827 190h1v1h-1zM234 191h1v1h-1zM573 191h2v1h-2zM678 191h2v1h-2zM712 191h2v1h-2zM726 191h2v1h-2zM747 191h3v1h-3zM828 191h1v1h-1zM235 192h1v1h-1zM551 192h22v1h-22zM680 192h1v1h-1zM710 192h2v1h-2zM728 192h2v1h-2zM743 192h4v1h-4zM829 192h1v1h-1zM236 193h1v1h-1zM547 193h4v1h-4zM681 193h1v1h-1zM708 193h2v1h-2zM730 193h2v1h-2zM739 193h4v1h-4zM237 194h1v1h-1zM544 194h3v1h-3zM682 194h1v1h-1zM706 194h2v1h-2zM732 194h7v1h-7zM543 195h1v1h-1zM683 195h1v1h-1zM704 195h2v1h-2zM831 195h1v1h-1zM542 196h1v1h-1zM684 196h1v1h-1zM702 196h2v1h-2zM832 196h1v1h-1zM239 197h1v1h-1zM541 197h1v1h-1zM685 197h2v1h-2zM700 197h2v1h-2zM833 197h1v1h-1zM240 198h1v1h-1zM540 198h1v1h-1zM687 198h1v1h-1zM698 198h2v1h-2zM241 199h1v1h-1zM538 199h2v1h-2zM688 199h10v1h-10zM242 200h1v1h-1zM535 200h3v1h-3zM835 200h1v1h-1zM243 201h1v1h-1zM531 201h4v1h-4zM836 201h1v1h-1zM244 202h1v1h-1zM524 202h7v1h-7zM837 202h1v1h-1zM245 203h1v1h-1zM522 203h2v1h-2zM520 204h2v1h-2zM519 205h1v1h-1zM839 205h1v1h-1zM247 206h1v1h-1zM316 206h11v1h-11zM517 206h2v1h-2zM840 206h1v1h-1zM248 207h1v1h-1zM315 207h1v1h-1zM327 207h4v1h-4zM371 207h4v1h-4zM516 207h1v1h-1zM249 208h1v1h-1zM314 208h1v1h-1zM331 208h2v1h-2zM368 208h3v1h-3zM375 208h4v1h-4zM515 208h1v1h-1zM313 209h1v1h-1zM333 209h2v1h-2zM366 209h2v1h-2zM379 209h2v1h-2zM513 209h2v1h-2zM842 209h1v1h-1zM312 210h1v1h-1zM335 210h1v1h-1zM364 210h2v1h-2zM381 210h1v1h-1zM512 210h1v1h-1zM251 211h1v1h-1zM311 211h1v1h-1zM336 211h1v1h-1zM362 211h2v1h-2zM382 211h1v1h-1zM511 211h1v1h-1zM252 212h1v1h-1zM309 212h2v1h-2zM337 212h2v1h-2zM360 212h2v1h-2zM383 212h1v1h-1zM510 212h1v1h-1zM844 212h1v1h-1zM308 213h1v1h-1zM339 213h1v1h-1zM358 213h2v1h-2zM384 213h3v1h-3zM509 213h1v1h-1zM845 213h1v1h-1zM307 214h1v1h-1zM340 214h2v1h-2zM356 214h2v1h-2zM387 214h2v1h-2zM508 214h1v1h-1zM846 214h1v1h-1zM254 215h1v1h-1zM305 215h2v1h-2zM342 215h2v1h-2zM354 215h2v1h-2zM389 215h2v1h-2zM847 215h1v1h-1zM304 216h1v1h-1zM344 216h3v1h-3zM351 216h3v1h-3zM391 216h1v1h-1zM848 216h2v1h-2zM302 217h2v1h-2zM347 217h4v1h-4zM392 217h1v1h-1zM506 217h1v1h-1zM850 217h2v1h-2zM256 218h1v1h-1zM300 218h2v1h-2zM393 218h2v1h-2zM852 218h1v1h-1zM299 219h1v1h-1zM395 219h1v1h-1zM853 219h2v1h-2zM396 220h1v1h-1zM504 220h1v1h-1zM855 220h1v1h-1zM258 221h1v1h-1zM397 221h1v1h-1zM503 221h1v1h-1zM856 221h3v1h-3zM297 222h1v1h-1zM859 222h2v1h-2zM296 223h1v1h-1zM861 223h2v1h-2zM260 224h1v1h-1zM399 224h1v1h-1zM501 224h1v1h-1zM863 224h1v1h-1zM261 225h1v1h-1zM400 225h1v1h-1zM499 225h2v1h-2zM864 225h1v1h-1zM262 226h1v1h-1zM294 226h1v1h-1zM496 226h3v1h-3zM865 226h2v1h-2zM263 227h1v1h-1zM494 227h2v1h-2zM867 227h1v1h-1zM264 228h1v1h-1zM402 228h1v1h-1zM492 228h2v1h-2zM868 228h1v1h-1zM265 229h1v1h-1zM292 229h1v1h-1zM490 229h2v1h-2zM869 229h2v1h-2zM266 230h1v1h-1zM291 230h1v1h-1zM484 230h6v1h-6zM871 230h1v1h-1zM267 231h1v1h-1zM404 231h1v1h-1zM483 231h1v1h-1zM872 231h3v1h-3zM268 232h1v1h-1zM481 232h2v1h-2zM875 232h2v1h-2zM269 233h1v1h-1zM289 233h1v1h-1zM480 233h1v1h-1zM877 233h1v1h-1zM270 234h1v1h-1zM288 234h1v1h-1zM479 234h1v1h-1zM878 234h1v1h-1zM271 235h1v1h-1zM287 235h1v1h-1zM478 235h1v1h-1zM879 235h1v1h-1zM272 236h1v1h-1zM477 236h1v1h-1zM880 236h1v1h-1zM273 237h1v1h-1zM476 237h1v1h-1zM881 237h1v1h-1zM285 238h1v1h-1zM408 238h1v1h-1zM475 238h1v1h-1zM882 238h1v1h-1zM284 239h1v1h-1zM474 239h1v1h-1zM883 239h1v1h-1zM275 240h1v1h-1zM283 240h1v1h-1zM473 240h1v1h-1zM884 240h1v1h-1zM276 241h3v1h-3zM281 241h2v1h-2zM410 241h1v1h-1zM472 241h1v1h-1zM885 241h1v1h-1zM279 242h2v1h-2zM886 242h1v1h-1zM887 243h1v1h-1zM412 244h1v1h-1zM470 244h1v1h-1zM888 244h1v1h-1zM1075 245h15v1h-15zM1072 246h3v1h-3zM1090 246h2v1h-2zM414 247h1v1h-1zM468 247h1v1h-1zM890 247h1v1h-1zM1070 247h2v1h-2zM1092 247h1v1h-1zM467 248h1v1h-1zM1068 248h2v1h-2zM1093 248h2v1h-2zM465 249h2v1h-2zM1067 249h1v1h-1zM1095 249h1v1h-1zM416 250h1v1h-1zM464 250h1v1h-1zM892 250h1v1h-1zM1066 250h1v1h-1zM1096 250h1v1h-1zM417 251h1v1h-1zM463 251h1v1h-1zM893 251h1v1h-1zM1065 251h1v1h-1zM1097 251h1v1h-1zM461 252h2v1h-2zM1064 252h1v1h-1zM1098 252h1v1h-1zM460 253h1v1h-1zM1063 253h1v1h-1zM1099 253h1v1h-1zM419 254h1v1h-1zM459 254h1v1h-1zM895 254h1v1h-1zM1100 254h1v1h-1zM420 255h1v1h-1zM457 255h2v1h-2zM896 255h1v1h-1zM421 256h2v1h-2zM456 256h1v1h-1zM897 256h2v1h-2zM1061 256h1v1h-1zM423 257h1v1h-1zM455 257h1v1h-1zM899 257h1v1h-1zM1060 257h1v1h-1zM424 258h1v1h-1zM448 258h3v1h-3zM453 258h2v1h-2zM900 258h1v1h-1zM425 259h1v1h-1zM446 259h2v1h-2zM451 259h2v1h-2zM901 259h1v1h-1zM443 260h3v1h-3zM902 260h1v1h-1zM1058 260h1v1h-1zM440 261h3v1h-3zM903 261h1v1h-1zM427 262h1v1h-1zM439 262h1v1h-1zM904 262h2v1h-2zM428 263h7v1h-7zM437 263h2v1h-2zM906 263h2v1h-2zM1056 263h1v1h-1zM435 264h2v1h-2zM908 264h1v1h-1zM909 265h1v1h-1zM910 266h1v1h-1zM1054 266h1v1h-1zM911 267h1v1h-1zM912 268h1v1h-1zM913 269h2v1h-2zM1052 269h1v1h-1zM915 270h1v1h-1zM1051 270h1v1h-1zM916 271h1v1h-1zM1050 271h1v1h-1zM917 272h1v1h-1zM1049 272h1v1h-1zM918 273h1v1h-1zM1048 273h1v1h-1zM919 274h1v1h-1zM1046 274h2v1h-2zM920 275h2v1h-2zM1044 275h2v1h-2zM1215 275h2v1h-2zM922 276h2v1h-2zM1042 276h2v1h-2zM1212 276h3v1h-3zM1217 276h2v1h-2zM924 277h2v1h-2zM1040 277h2v1h-2zM1211 277h1v1h-1zM1219 277h1v1h-1zM926 278h2v1h-2zM1038 278h2v1h-2zM1209 278h2v1h-2zM1220 278h1v1h-1zM928 279h1v1h-1zM1036 279h2v1h-2zM1208 279h1v1h-1zM1221 279h2v1h-2zM929 280h2v1h-2zM1034 280h2v1h-2zM1223 280h1v1h-1zM931 281h1v1h-1zM1032 281h2v1h-2zM1224 281h1v1h-1zM932 282h2v1h-2zM1030 282h2v1h-2zM1206 282h1v1h-1zM934 283h2v1h-2zM1028 283h2v1h-2zM936 284h3v1h-3zM1027 284h1v1h-1zM1226 284h1v1h-1zM939 285h4v1h-4zM1025 285h2v1h-2zM1204 285h1v1h-1zM943 286h3v1h-3zM1024 286h1v1h-1zM1203 286h1v1h-1zM946 287h2v1h-2zM1022 287h2v1h-2zM1201 287h2v1h-2zM1228 287h1v1h-1zM948 288h11v1h-11zM1020 288h2v1h-2zM1200 288h1v1h-1zM1229 288h1v1h-1zM959 289h4v1h-4zM1018 289h2v1h-2zM1198 289h2v1h-2zM1230 289h1v1h-1zM963 290h8v1h-8zM1015 290h3v1h-3zM1192 290h6v1h-6zM1231 290h1v1h-1zM1260 290h6v1h-6zM971 291h11v1h-11zM991 291h16v1h-16zM1011 291h4v1h-4zM1191 291h1v1h-1zM1232 291h1v1h-1zM1258 291h2v1h-2zM1266 291h2v1h-2zM982 292h2v1h-2zM987 292h4v1h-4zM1007 292h4v1h-4zM1233 292h1v1h-1zM1255 292h3v1h-3zM1268 292h1v1h-1zM984 293h3v1h-3zM1234 293h1v1h-1zM1252 293h3v1h-3zM1189 294h1v1h-1zM1235 294h1v1h-1zM1251 294h1v1h-1zM1236 295h1v1h-1zM1249 295h2v1h-2zM1237 296h1v1h-1zM1248 296h1v1h-1zM1247 297h1v1h-1zM1245 298h2v1h-2zM1239 299h1v1h-1zM1243 299h2v1h-2zM1240 300h3v1h-3zM1140 366h1v1h-1zM1144 373h1v1h-1zM1145 374h1v1h-1zM1147 377h1v1h-1zM1148 378h1v1h-1zM1159 382h1v1h-1zM1158 383h1v1h-1zM1157 384h1v1h-1zM1152 385h5v1h-5z" fill="#ff0000"/>
<path d="M4 137h1v2h-1zM5 135h1v2h-1zM6 133h1v2h-1zM7 131h1v2h-1zM8 128h1v3h-1zM9 125h1v3h-1zM10 122h1v3h-1zM11 119h1v3h-1zM12 116h1v3h-1zM13 114h1v2h-1zM14 112h1v2h-1zM15 110h1v2h-1zM16 107h1v3h-1zM17 105h1v2h-1zM18 103h1v2h-1zM19 101h1v2h-1zM20 98h1v3h-1zM21 96h1v2h-1zM22 94h1v2h-1zM23 92h1v2h-1zM24 90h1v2h-1zM25 87h1v3h-1zM26 85h1v2h-1zM27 82h1v3h-1zM28 80h1v2h-1zM54 69h1v2h-1zM72 78h1v2h-1zM73 76h1v2h-1zM74 74h1v2h-1zM75 72h1v2h-1zM85 76h1v2h-1zM87 79h1v2h-1zM90 83h1v2h-1zM92 86h1v2h-1zM93 88h1v3h-1zM94 91h1v4h-1zM95 95h1v3h-1zM96 98h1v3h-1zM97 101h1v2h-1zM98 103h1v2h-1zM99 105h1v2h-1zM100 107h1v2h-1zM114 111h1v2h-1zM129 111h1v2h-1zM131 114h1v2h-1zM132 116h1v2h-1zM133 118h1v2h-1zM134 120h1v2h-1zM135 122h1v2h-1zM137 125h1v2h-1zM139 128h1v2h-1zM142 132h1v2h-1zM154 130h1v2h-1zM164 130h1v2h-1zM165 132h1v2h-1zM166 134h1v2h-1zM167 136h1v2h-1zM168 138h1v3h-1zM169 141h1v3h-1zM170 144h1v2h-1zM171 146h1v3h-1zM172 149h1v3h-1zM173 152h1v4h-1zM174 156h1v3h-1zM175 159h1v4h-1zM176 163h1v3h-1zM177 166h1v3h-1zM178 169h1v4h-1zM179 173h1v3h-1zM180 176h1v3h-1zM181 179h1v3h-1zM182 182h1v2h-1zM183 184h1v3h-1zM184 187h1v3h-1zM185 190h1v3h-1zM186 193h1v3h-1zM187 196h1v3h-1zM188 199h1v2h-1zM197 200h1v2h-1zM199 197h1v2h-1zM201 194h1v2h-1zM203 191h1v2h-1zM204 189h1v2h-1zM205 186h1v3h-1zM206 184h1v2h-1zM207 181h1v3h-1zM208 178h1v3h-1zM209 176h1v2h-1zM210 174h1v2h-1zM211 172h1v2h-1zM214 168h1v2h-1zM224 161h1v2h-1zM225 163h1v4h-1zM226 167h1v4h-1zM227 171h1v4h-1zM228 175h1v4h-1zM229 179h1v4h-1zM230 183h1v5h-1zM231 188h1v4h-1zM232 192h1v5h-1zM233 197h1v5h-1zM234 202h1v4h-1zM235 206h1v5h-1zM236 211h1v6h-1zM237 217h1v6h-1zM238 223h1v6h-1zM239 229h1v6h-1zM240 235h1v6h-1zM241 241h1v5h-1zM242 246h1v5h-1zM243 251h1v5h-1zM244 256h1v3h-1zM246 260h1v2h-1zM260 263h1v2h-1zM261 260h1v3h-1zM262 256h1v4h-1zM263 253h1v3h-1zM264 250h1v3h-1zM265 248h1v2h-1zM266 246h1v2h-1zM267 244h1v2h-1zM268 242h1v2h-1zM269 240h1v2h-1zM270 238h1v2h-1zM271 236h1v2h-1zM272 233h1v3h-1zM273 231h1v2h-1zM274 229h1v2h-1zM275 227h1v2h-1zM276 224h1v3h-1zM277 220h1v4h-1zM278 216h1v4h-1zM279 212h1v4h-1zM280 210h1v2h-1zM284 205h1v2h-1zM285 203h1v2h-1zM286 201h1v2h-1zM287 199h1v2h-1zM290 195h1v2h-1zM301 194h1v2h-1zM303 197h1v2h-1zM304 199h1v2h-1zM305 201h1v2h-1zM306 203h1v2h-1zM307 205h1v2h-1zM308 207h1v2h-1zM309 209h1v2h-1zM310 211h1v2h-1zM311 213h1v2h-1zM333 220h1v2h-1zM334 222h1v2h-1zM335 224h1v2h-1zM345 226h1v2h-1zM346 224h1v2h-1zM347 222h1v2h-1zM348 220h1v2h-1zM349 218h1v2h-1zM350 215h1v3h-1zM351 213h1v2h-1zM352 210h1v3h-1zM353 207h1v3h-1zM354 205h1v2h-1zM355 202h1v3h-1zM356 200h1v2h-1zM357 198h1v2h-1zM359 195h1v2h-1zM372 189h1v2h-1zM373 191h1v3h-1zM374 194h1v2h-1zM375 196h1v3h-1zM376 199h1v3h-1zM377 202h1v2h-1zM378 204h1v2h-1zM379 206h1v2h-1zM380 208h1v3h-1zM381 211h1v4h-1zM382 215h1v4h-1zM383 219h1v4h-1zM384 223h1v3h-1zM385 226h1v3h-1zM386 229h1v2h-1zM387 231h1v3h-1zM388 234h1v4h-1zM389 238h1v5h-1zM390 243h1v5h-1zM391 248h1v5h-1zM392 253h1v3h-1zM393 256h1v2h-1zM395 259h1v2h-1zM396 261h1v2h-1zM397 263h1v3h-1zM398 266h1v2h-1zM399 268h1v3h-1zM400 271h1v2h-1zM404 271h1v2h-1zM405 273h1v2h-1zM406 275h1v2h-1zM407 277h1v2h-1zM421 271h1v2h-1zM422 269h1v2h-1zM423 267h1v2h-1zM424 265h1v2h-1zM425 263h1v2h-1zM426 261h1v2h-1zM427 259h1v2h-1zM430 255h1v2h-1zM434 250h1v2h-1zM438 245h1v2h-1zM449 244h1v2h-1zM451 247h1v2h-1zM464 251h1v2h-1zM465 249h1v2h-1zM466 247h1v2h-1zM467 245h1v2h-1zM468 242h1v3h-1zM469 238h1v4h-1zM470 235h1v3h-1zM471 231h1v4h-1zM472 228h1v3h-1zM473 225h1v3h-1zM474 223h1v2h-1zM475 220h1v3h-1zM476 217h1v3h-1zM477 215h1v2h-1zM478 213h1v2h-1zM479 211h1v2h-1zM481 208h1v2h-1zM483 205h1v2h-1zM504 211h1v2h-1zM505 209h1v2h-1zM506 207h1v2h-1zM507 205h1v2h-1zM510 201h1v2h-1zM534 191h1v2h-1zM553 188h1v2h-1zM554 190h1v2h-1zM555 192h1v2h-1zM572 194h1v2h-1zM573 192h1v2h-1zM574 190h1v2h-1zM575 188h1v2h-1zM576 186h1v2h-1zM586 176h1v2h-1zM590 171h1v2h-1zM632 167h1v2h-1zM633 169h1v2h-1zM634 171h1v2h-1zM635 173h1v2h-1zM636 175h1v3h-1zM637 178h1v3h-1zM638 181h1v2h-1zM639 183h1v3h-1zM640 186h1v3h-1zM641 189h1v2h-1zM642 191h1v3h-1zM643 194h1v2h-1zM644 196h1v3h-1zM645 199h1v2h-1zM646 201h1v3h-1zM647 204h1v2h-1zM648 206h1v2h-1zM649 208h1v2h-1zM651 211h1v2h-1zM657 208h1v2h-1zM658 206h1v2h-1zM659 204h1v2h-1zM660 202h1v2h-1zM661 200h1v2h-1zM662 198h1v2h-1zM663 196h1v2h-1zM665 193h1v2h-1zM666 191h1v2h-1zM667 189h1v2h-1zM669 186h1v2h-1zM670 184h1v2h-1zM671 182h1v2h-1zM681 182h1v2h-1zM682 184h1v2h-1zM683 186h1v2h-1zM684 188h1v2h-1zM685 190h1v2h-1zM686 192h1v2h-1zM687 194h1v2h-1zM688 196h1v2h-1zM689 198h1v2h-1zM690 200h1v2h-1zM691 202h1v2h-1zM692 204h1v2h-1zM693 206h1v2h-1zM694 208h1v2h-1zM695 210h1v2h-1zM702 207h1v2h-1zM704 204h1v2h-1zM705 202h1v2h-1zM706 200h1v2h-1zM707 198h1v2h-1zM708 196h1v2h-1zM709 194h1v2h-1zM710 191h1v3h-1zM711 189h1v2h-1zM712 186h1v3h-1zM713 184h1v2h-1zM714 181h1v3h-1zM715 179h1v2h-1zM716 177h1v2h-1zM728 178h1v2h-1zM729 180h1v2h-1zM730 182h1v2h-1zM731 184h1v2h-1zM733 187h1v2h-1zM734 189h1v2h-1zM735 191h1v2h-1zM738 195h1v2h-1zM741 199h1v2h-1zM743 202h1v2h-1zM758 195h1v2h-1zM760 192h1v2h-1zM761 190h1v2h-1zM762 188h1v2h-1zM763 186h1v2h-1zM764 184h1v2h-1zM765 182h1v2h-1zM766 180h1v2h-1zM767 178h1v2h-1zM770 174h1v2h-1zM772 171h1v2h-1zM773 169h1v2h-1zM774 167h1v2h-1zM775 165h1v2h-1zM792 162h1v2h-1zM793 164h1v3h-1zM794 167h1v3h-1zM795 170h1v3h-1zM796 173h1v3h-1zM797 176h1v2h-1zM798 178h1v2h-1zM799 180h1v2h-1zM800 182h1v2h-1zM801 184h1v2h-1zM802 186h1v3h-1zM803 189h1v2h-1zM804 191h1v3h-1zM805 194h1v2h-1zM806 196h1v2h-1zM807 198h1v2h-1zM829 210h1v2h-1zM830 212h1v2h-1zM831 214h1v2h-1zM841 222h1v2h-1zM843 225h1v2h-1zM846 229h1v2h-1zM877 238h1v2h-1zM879 241h1v2h-1zM880 243h1v2h-1zM881 245h1v2h-1zM882 247h1v2h-1zM883 249h1v2h-1zM884 251h1v3h-1zM885 254h1v2h-1zM886 256h1v3h-1zM887 259h1v2h-1zM888 261h1v3h-1zM889 264h1v2h-1zM890 266h1v3h-1zM891 269h1v2h-1zM892 271h1v3h-1zM893 274h1v3h-1zM894 277h1v2h-1zM895 279h1v3h-1zM896 282h1v2h-1zM897 284h1v2h-1zM899 287h1v2h-1zM941 281h1v2h-1zM942 283h1v2h-1zM943 285h1v2h-1zM944 287h1v2h-1zM945 289h1v2h-1zM946 291h1v2h-1zM947 293h1v2h-1zM966 296h1v2h-1zM990 281h1v2h-1zM998 283h1v2h-1zM1001 287h1v2h-1zM1003 290h1v2h-1zM1005 293h1v2h-1zM1006 295h1v2h-1zM1007 297h1v2h-1zM1016 298h1v2h-1zM1017 296h1v2h-1zM1018 294h1v2h-1zM1019 292h1v2h-1zM1020 289h1v3h-1zM1021 286h1v3h-1zM1022 283h1v3h-1zM1023 280h1v3h-1zM1024 277h1v3h-1zM1025 275h1v2h-1zM1026 272h1v3h-1zM1027 270h1v2h-1zM1028 268h1v2h-1zM1029 266h1v2h-1zM1031 263h1v2h-1zM1054 244h1v2h-1zM1081 244h1v2h-1zM1083 247h1v2h-1zM1088 253h1v2h-1zM1089 255h1v2h-1zM1090 257h1v2h-1zM1091 259h1v2h-1zM1092 261h1v2h-1zM1093 263h1v2h-1zM1094 265h1v2h-1zM1095 267h1v2h-1zM1096 269h1v2h-1zM1097 271h1v3h-1zM1098 274h1v2h-1zM1099 276h1v3h-1zM1100 279h1v3h-1zM1101 282h1v4h-1zM1102 286h1v4h-1zM1103 290h1v4h-1zM1104 294h1v4h-1zM1105 298h1v5h-1zM1106 303h1v5h-1zM1107 308h1v5h-1zM1108 313h1v4h-1zM1109 317h1v3h-1zM1110 320h1v4h-1zM1111 324h1v3h-1zM1112 327h1v4h-1zM1113 331h1v4h-1zM1114 335h1v4h-1zM1115 339h1v4h-1zM1116 343h1v5h-1zM1117 348h1v6h-1zM1118 354h1v6h-1zM1119 360h1v6h-1zM1120 366h1v5h-1zM1121 371h1v5h-1zM1122 376h1v6h-1zM1123 382h1v5h-1zM1124 387h1v5h-1zM1125 392h1v6h-1zM1126 398h1v6h-1zM1127 404h1v6h-1zM1128 410h1v5h-1zM1129 415h1v5h-1zM1130 420h1v5h-1zM1131 425h1v5h-1zM1132 430h1v4h-1zM1133 434h1v3h-1zM1134 437h1v2h-1zM1135 439h1v3h-1zM1136 442h1v2h-1zM1137 438h1v4h-1zM1138 434h1v4h-1zM1139 430h1v4h-1zM1140 426h1v4h-1zM1141 422h1v4h-1zM1142 418h1v4h-1zM1143 414h1v4h-1zM1144 410h1v4h-1zM1145 404h1v6h-1zM1146 399h1v5h-1zM1147 393h1v6h-1zM1148 389h1v4h-1zM1149 386h1v3h-1zM1150 382h1v4h-1zM1151 379h1v3h-1zM1152 374h1v5h-1zM1153 368h1v6h-1zM1154 362h1v6h-1zM1155 356h1v6h-1zM1156 351h1v5h-1zM1157 347h1v4h-1zM1158 343h1v4h-1zM1159 339h1v4h-1zM1160 334h1v5h-1zM1161 327h1v7h-1zM1162 320h1v7h-1zM1163 313h1v7h-1zM1164 306h1v7h-1zM1165 299h1v7h-1zM1166 292h1v7h-1zM1167 285h1v7h-1zM1168 277h1v8h-1zM1169 268h1v9h-1zM1170 258h1v10h-1zM1171 249h1v9h-1zM1172 242h1v7h-1zM1173 238h1v4h-1zM1174 234h1v4h-1zM1175 230h1v4h-1zM1176 227h1v3h-1zM1177 225h1v2h-1zM1178 223h1v2h-1zM1179 221h1v2h-1zM1181 221h1v2h-1zM1183 224h1v2h-1zM1184 226h1v3h-1zM1185 229h1v5h-1zM1186 234h1v6h-1zM1187 240h1v5h-1zM1188 245h1v6h-1zM1189 251h1v8h-1zM1190 259h1v7h-1zM1191 266h1v8h-1zM1192 274h1v7h-1zM1193 281h1v6h-1zM1194 287h1v7h-1zM1195 294h1v6h-1zM1196 300h1v6h-1zM1197 306h1v4h-1zM1198 310h1v5h-1zM1199 315h1v4h-1zM1200 319h1v4h-1zM1201 323h1v3h-1zM1202 326h1v4h-1zM1203 330h1v3h-1zM1204 333h1v2h-1zM1208 330h1v2h-1zM1209 326h1v4h-1zM1210 322h1v4h-1zM1211 318h1v4h-1zM1212 314h1v4h-1zM1213 308h1v6h-1zM1214 303h1v5h-1zM1215 297h1v6h-1zM1216 293h1v4h-1zM1217 290h1v3h-1zM1218 286h1v4h-1zM1219 283h1v3h-1zM1220 280h1v3h-1zM1221 277h1v3h-1zM1222 274h1v3h-1zM1223 271h1v3h-1zM1224 269h1v2h-1zM1232 267h1v2h-1zM1233 269h1v3h-1zM1234 272h1v2h-1zM1235 274h1v3h-1zM1236 277h1v3h-1zM1237 280h1v2h-1zM1238 282h1v3h-1zM1239 285h1v2h-1zM1240 287h1v3h-1zM1241 290h1v2h-1zM1242 292h1v3h-1zM1243 295h1v2h-1zM1244 297h1v2h-1zM1248 300h1v2h-1zM1249 302h1v2h-1zM1250 304h1v3h-1zM1251 307h1v2h-1zM1252 309h1v2h-1zM44 66h2v1h-2zM43 67h1v1h-1zM46 67h2v1h-2zM51 67h2v1h-2zM42 68h1v1h-1zM48 68h3v1h-3zM53 68h1v1h-1zM41 69h1v1h-1zM40 70h1v1h-1zM39 71h1v1h-1zM55 71h1v1h-1zM76 71h5v1h-5zM38 72h1v1h-1zM56 72h3v1h-3zM81 72h1v1h-1zM37 73h1v1h-1zM59 73h4v1h-4zM82 73h1v1h-1zM36 74h1v1h-1zM63 74h2v1h-2zM83 74h1v1h-1zM35 75h1v1h-1zM65 75h2v1h-2zM84 75h1v1h-1zM34 76h1v1h-1zM67 76h1v1h-1zM33 77h1v1h-1zM68 77h2v1h-2zM32 78h1v1h-1zM70 78h2v1h-2zM86 78h1v1h-1zM30 79h2v1h-2zM29 80h1v1h-1zM88 81h1v1h-1zM89 82h1v1h-1zM91 85h1v1h-1zM101 109h2v1h-2zM116 109h3v1h-3zM123 109h4v1h-4zM103 110h1v1h-1zM115 110h1v1h-1zM119 110h4v1h-4zM127 110h2v1h-2zM104 111h3v1h-3zM107 112h3v1h-3zM110 113h2v1h-2zM113 113h1v1h-1zM130 113h1v1h-1zM112 114h1v1h-1zM136 124h1v1h-1zM160 126h1v1h-1zM138 127h1v1h-1zM158 127h2v1h-2zM161 127h1v1h-1zM156 128h2v1h-2zM162 128h1v1h-1zM155 129h1v1h-1zM163 129h1v1h-1zM140 130h1v1h-1zM141 131h1v1h-1zM153 132h1v1h-1zM152 133h1v1h-1zM143 134h1v1h-1zM150 134h2v1h-2zM144 135h6v1h-6zM788 158h1v1h-1zM786 159h2v1h-2zM789 159h1v1h-1zM784 160h2v1h-2zM790 160h1v1h-1zM223 161h1v1h-1zM782 161h2v1h-2zM791 161h1v1h-1zM220 162h3v1h-3zM780 162h2v1h-2zM219 163h1v1h-1zM778 163h2v1h-2zM218 164h1v1h-1zM776 164h2v1h-2zM217 165h1v1h-1zM216 166h1v1h-1zM215 167h1v1h-1zM628 167h4v1h-4zM627 168h1v1h-1zM592 169h1v1h-1zM625 169h2v1h-2zM213 170h1v1h-1zM591 170h1v1h-1zM593 170h2v1h-2zM624 170h1v1h-1zM212 171h1v1h-1zM595 171h1v1h-1zM599 171h2v1h-2zM623 171h1v1h-1zM596 172h3v1h-3zM601 172h2v1h-2zM621 172h2v1h-2zM589 173h1v1h-1zM603 173h1v1h-1zM620 173h1v1h-1zM771 173h1v1h-1zM588 174h1v1h-1zM604 174h1v1h-1zM618 174h2v1h-2zM723 174h2v1h-2zM587 175h1v1h-1zM605 175h2v1h-2zM616 175h2v1h-2zM720 175h3v1h-3zM725 175h1v1h-1zM607 176h1v1h-1zM614 176h2v1h-2zM718 176h2v1h-2zM726 176h1v1h-1zM769 176h1v1h-1zM608 177h6v1h-6zM717 177h1v1h-1zM727 177h1v1h-1zM768 177h1v1h-1zM585 178h1v1h-1zM584 179h1v1h-1zM676 179h2v1h-2zM583 180h1v1h-1zM674 180h2v1h-2zM678 180h2v1h-2zM582 181h1v1h-1zM672 181h2v1h-2zM680 181h1v1h-1zM581 182h1v1h-1zM580 183h1v1h-1zM544 184h3v1h-3zM579 184h1v1h-1zM542 185h2v1h-2zM547 185h3v1h-3zM577 185h2v1h-2zM540 186h2v1h-2zM550 186h2v1h-2zM732 186h1v1h-1zM539 187h1v1h-1zM552 187h1v1h-1zM537 188h2v1h-2zM668 188h1v1h-1zM296 189h1v1h-1zM367 189h5v1h-5zM536 189h1v1h-1zM295 190h1v1h-1zM297 190h1v1h-1zM364 190h3v1h-3zM535 190h1v1h-1zM294 191h1v1h-1zM298 191h1v1h-1zM363 191h1v1h-1zM293 192h1v1h-1zM299 192h1v1h-1zM362 192h1v1h-1zM202 193h1v1h-1zM292 193h1v1h-1zM300 193h1v1h-1zM361 193h1v1h-1zM533 193h1v1h-1zM736 193h1v1h-1zM291 194h1v1h-1zM360 194h1v1h-1zM527 194h6v1h-6zM556 194h2v1h-2zM737 194h1v1h-1zM759 194h1v1h-1zM520 195h7v1h-7zM558 195h2v1h-2zM571 195h1v1h-1zM664 195h1v1h-1zM200 196h1v1h-1zM302 196h1v1h-1zM518 196h2v1h-2zM560 196h11v1h-11zM289 197h1v1h-1zM358 197h1v1h-1zM516 197h2v1h-2zM739 197h1v1h-1zM757 197h1v1h-1zM288 198h1v1h-1zM514 198h2v1h-2zM740 198h1v1h-1zM756 198h1v1h-1zM198 199h1v1h-1zM512 199h2v1h-2zM754 199h2v1h-2zM511 200h1v1h-1zM752 200h2v1h-2zM808 200h1v1h-1zM189 201h2v1h-2zM742 201h1v1h-1zM751 201h1v1h-1zM809 201h2v1h-2zM816 201h1v1h-1zM191 202h1v1h-1zM195 202h2v1h-2zM749 202h2v1h-2zM811 202h1v1h-1zM814 202h2v1h-2zM817 202h2v1h-2zM192 203h3v1h-3zM509 203h1v1h-1zM747 203h2v1h-2zM812 203h2v1h-2zM819 203h1v1h-1zM484 204h1v1h-1zM508 204h1v1h-1zM744 204h3v1h-3zM820 204h3v1h-3zM485 205h2v1h-2zM823 205h2v1h-2zM487 206h1v1h-1zM703 206h1v1h-1zM825 206h1v1h-1zM283 207h1v1h-1zM482 207h1v1h-1zM488 207h2v1h-2zM826 207h1v1h-1zM282 208h1v1h-1zM490 208h2v1h-2zM827 208h1v1h-1zM281 209h1v1h-1zM492 209h1v1h-1zM701 209h1v1h-1zM828 209h1v1h-1zM480 210h1v1h-1zM493 210h1v1h-1zM650 210h1v1h-1zM656 210h1v1h-1zM700 210h1v1h-1zM494 211h1v1h-1zM655 211h1v1h-1zM698 211h2v1h-2zM495 212h1v1h-1zM653 212h2v1h-2zM696 212h2v1h-2zM496 213h2v1h-2zM503 213h1v1h-1zM652 213h1v1h-1zM498 214h2v1h-2zM501 214h2v1h-2zM312 215h6v1h-6zM324 215h2v1h-2zM500 215h1v1h-1zM318 216h2v1h-2zM322 216h2v1h-2zM326 216h2v1h-2zM832 216h1v1h-1zM320 217h2v1h-2zM328 217h2v1h-2zM833 217h2v1h-2zM330 218h2v1h-2zM835 218h1v1h-1zM332 219h1v1h-1zM836 219h2v1h-2zM838 220h2v1h-2zM1180 220h1v1h-1zM840 221h1v1h-1zM1182 223h1v1h-1zM842 224h1v1h-1zM336 226h3v1h-3zM339 227h4v1h-4zM844 227h1v1h-1zM343 228h2v1h-2zM845 228h1v1h-1zM847 231h1v1h-1zM848 232h1v1h-1zM849 233h1v1h-1zM1067 233h2v1h-2zM850 234h1v1h-1zM1064 234h3v1h-3zM1069 234h2v1h-2zM851 235h1v1h-1zM1063 235h1v1h-1zM1071 235h1v1h-1zM852 236h2v1h-2zM1062 236h1v1h-1zM1072 236h1v1h-1zM854 237h2v1h-2zM864 237h3v1h-3zM871 237h6v1h-6zM1061 237h1v1h-1zM1073 237h1v1h-1zM856 238h3v1h-3zM862 238h2v1h-2zM867 238h4v1h-4zM1060 238h1v1h-1zM1074 238h1v1h-1zM859 239h3v1h-3zM1059 239h1v1h-1zM1075 239h1v1h-1zM444 240h1v1h-1zM878 240h1v1h-1zM1058 240h1v1h-1zM1076 240h1v1h-1zM443 241h1v1h-1zM445 241h2v1h-2zM1057 241h1v1h-1zM1077 241h2v1h-2zM441 242h2v1h-2zM447 242h1v1h-1zM1056 242h1v1h-1zM1079 242h1v1h-1zM440 243h1v1h-1zM448 243h1v1h-1zM1055 243h1v1h-1zM1080 243h1v1h-1zM439 244h1v1h-1zM450 246h1v1h-1zM1053 246h1v1h-1zM1082 246h1v1h-1zM437 247h1v1h-1zM1052 247h1v1h-1zM436 248h1v1h-1zM1051 248h1v1h-1zM435 249h1v1h-1zM452 249h7v1h-7zM1050 249h1v1h-1zM1084 249h1v1h-1zM459 250h3v1h-3zM1049 250h1v1h-1zM1085 250h1v1h-1zM462 251h2v1h-2zM1048 251h1v1h-1zM1086 251h1v1h-1zM433 252h1v1h-1zM1047 252h1v1h-1zM1087 252h1v1h-1zM432 253h1v1h-1zM1046 253h1v1h-1zM431 254h1v1h-1zM1045 254h1v1h-1zM1044 255h1v1h-1zM1042 256h2v1h-2zM429 257h1v1h-1zM1039 257h3v1h-3zM394 258h1v1h-1zM428 258h1v1h-1zM1036 258h3v1h-3zM245 259h1v1h-1zM1035 259h1v1h-1zM1034 260h1v1h-1zM1033 261h1v1h-1zM247 262h1v1h-1zM1032 262h1v1h-1zM248 263h2v1h-2zM250 264h2v1h-2zM252 265h2v1h-2zM259 265h1v1h-1zM1030 265h1v1h-1zM254 266h2v1h-2zM257 266h2v1h-2zM1228 266h3v1h-3zM256 267h1v1h-1zM1227 267h1v1h-1zM1231 267h1v1h-1zM1225 268h2v1h-2zM403 271h1v1h-1zM401 272h2v1h-2zM420 273h1v1h-1zM419 274h1v1h-1zM418 275h1v1h-1zM412 276h3v1h-3zM417 276h1v1h-1zM411 277h1v1h-1zM415 277h2v1h-2zM932 277h3v1h-3zM409 278h2v1h-2zM931 278h1v1h-1zM935 278h3v1h-3zM408 279h1v1h-1zM929 279h2v1h-2zM938 279h2v1h-2zM992 279h2v1h-2zM927 280h2v1h-2zM940 280h1v1h-1zM991 280h1v1h-1zM994 280h2v1h-2zM924 281h3v1h-3zM996 281h1v1h-1zM922 282h2v1h-2zM997 282h1v1h-1zM920 283h2v1h-2zM989 283h1v1h-1zM918 284h2v1h-2zM988 284h1v1h-1zM916 285h2v1h-2zM987 285h1v1h-1zM999 285h1v1h-1zM898 286h1v1h-1zM915 286h1v1h-1zM985 286h2v1h-2zM1000 286h1v1h-1zM914 287h1v1h-1zM984 287h1v1h-1zM913 288h1v1h-1zM982 288h2v1h-2zM900 289h1v1h-1zM908 289h5v1h-5zM979 289h3v1h-3zM1002 289h1v1h-1zM901 290h2v1h-2zM907 290h1v1h-1zM976 290h3v1h-3zM903 291h1v1h-1zM905 291h2v1h-2zM975 291h1v1h-1zM904 292h1v1h-1zM973 292h2v1h-2zM1004 292h1v1h-1zM971 293h2v1h-2zM968 294h3v1h-3zM948 295h1v1h-1zM967 295h1v1h-1zM949 296h1v1h-1zM950 297h1v1h-1zM951 298h1v1h-1zM965 298h1v1h-1zM1245 298h1v1h-1zM952 299h1v1h-1zM964 299h1v1h-1zM1008 299h1v1h-1zM1246 299h2v1h-2zM953 300h2v1h-2zM963 300h1v1h-1zM1009 300h1v1h-1zM1015 300h1v1h-1zM955 301h1v1h-1zM961 301h2v1h-2zM1010 301h1v1h-1zM1014 301h1v1h-1zM956 302h5v1h-5zM1011 302h1v1h-1zM1013 302h1v1h-1zM1012 303h1v1h-1zM1263 306h6v1h-6zM1260 307h3v1h-3zM1259 308h1v1h-1zM1258 309h1v1h-1zM1253 310h2v1h-2zM1257 310h1v1h-1zM1255 311h2v1h-2zM1207 332h1v1h-1zM1205 333h2v1h-2z" fill="#ffa500"/>
<rect x="4" y="99" width="1592" height="2" fill="#ff0000"/>
<rect x="4" y="161" width="1592" height="2" fill="#ff0000"/>
<rect x="4" y="210" width="1592" height="2" fill="#ff0000"/>
<rect x="4" y="256" width="1592" height="2" fill="#ff0000"/>
<rect x="3" y="254" width="6" height="6" fill="#ff0000"/>
<rect x="5" y="256" width="2" height="2" fill="#fff"/>
<rect x="1590" y="254" width="6" height="6" fill="#ff0000"/>
<rect x="1592" y="256" width="2" height="2" fill="#fff"/>
<rect x="4" y="294" width="1592" height="2" fill="#00ff00"/>
<rect x="3" y="292" width="6" height="6" fill="#00ff00"/>
<rect x="5" y="294" width="2" height="2" fill="#fff"/>
<rect x="1590" y="292" width="6" height="6" fill="#00ff00"/>
<rect x="1592" y="294" width="2" height="2" fill="#fff"/>
<rect x="4" y="345" width="1592" height="2" fill="#0000ff"/>
<rect x="3" y="343" width="6" height="6" fill="#0000ff"/>
<rect x="5" y="345" width="2" height="2" fill="#fff"/>
<rect x="1590" y="343" width="6" height="6" fill="#0000ff"/>
<rect x="1592" y="345" width="2" height="2" fill="#fff"/>
<rect x="4" y="401" width="1592" height="2" fill="#0000ff"/>
<rect x="4" y="463" width="1592" height="2" fill="#0000ff"/>
<rect x="3" y="461" width="6" height="6" fill="#0000ff"/>
<rect x="5" y="463" width="2" height="2" fill="#fff"/>
<rect x="1590" y="461" width="6" height="6" fill="#0000ff"/>
<rect x="1592" y="463" width="2" height="2" fill="#fff"/>
<rect x="1597" y="31" width="2" height="1" fill="#000"/>
<text x="1602.3" y="35" font-size="9.8" fill="#000" text-anchor="start" textLength="32.5" lengthAdjust="spacingAndGlyphs">1.02750</text>
<rect x="1597" y="64" width="2" height="1" fill="#000"/>
<text x="1602.3" y="68" font-size="9.8" fill="#000" text-anchor="start" textLength="32.5" lengthAdjust="spacingAndGlyphs">1.02010</text>
<rect x="1597" y="97" width="2" height="1" fill="#000"/>
<rect x="1597" y="130" width="2" height="1" fill="#000"/>
<text x="1602.3" y="134" font-size="9.8" fill="#000" text-anchor="start" textLength="32.5" lengthAdjust="spacingAndGlyphs">1.00530</text>
<rect x="1597" y="163" width="2" height="1" fill="#000"/>
<rect x="1597" y="196" width="2" height="1" fill="#000"/>
<text x="1602.3" y="200" font-size="9.8" fill="#000" text-anchor="start" textLength="32.5" lengthAdjust="spacingAndGlyphs">0.99030</text>
<rect x="1597" y="229" width="2" height="1" fill="#000"/>
<text x="1602.3" y="233" font-size="9.8" fill="#000" text-anchor="start" textLength="32.5" lengthAdjust="spacingAndGlyphs">0.98290</text>
<rect x="1597" y="262" width="2" height="1" fill="#000"/>
<text x="1602.3" y="266" font-size="9.8" fill="#000" text-anchor="start" textLength="32.5" lengthAdjust="spacingAndGlyphs">0.97550</text>
<rect x="1597" y="295" width="2" height="1" fill="#000"/>
<rect x="1597" y="328" width="2" height="1" fill="#000"/>
<text x="1602.3" y="332" font-size="9.8" fill="#000" text-anchor="start" textLength="32.5" lengthAdjust="spacingAndGlyphs">0.96070</text>
<rect x="1597" y="361" width="2" height="1" fill="#000"/>
<text x="1602.3" y="365" font-size="9.8" fill="#000" text-anchor="start" textLength="32.5" lengthAdjust="spacingAndGlyphs">0.95330</text>
<rect x="1597" y="394" width="2" height="1" fill="#000"/>
<text x="1602.3" y="398" font-size="9.8" fill="#000" text-anchor="start" textLength="32.5" lengthAdjust="spacingAndGlyphs">0.94570</text>
<rect x="1597" y="427" width="2" height="1" fill="#000"/>
<text x="1602.3" y="431" font-size="9.8" fill="#000" text-anchor="start" textLength="32.5" lengthAdjust="spacingAndGlyphs">0.93830</text>
<rect x="1597" y="460" width="2" height="1" fill="#000"/>
<text x="1602.3" y="464" font-size="9.8" fill="#000" text-anchor="start" textLength="32.5" lengthAdjust="spacingAndGlyphs">0.93090</text>
<rect x="1597" y="493" width="2" height="1" fill="#000"/>
<text x="1602.3" y="497" font-size="9.8" fill="#000" text-anchor="start" textLength="32.5" lengthAdjust="spacingAndGlyphs">0.92350</text>
<rect x="1597" y="526" width="2" height="1" fill="#000"/>
<text x="1602.3" y="530" font-size="9.8" fill="#000" text-anchor="start" textLength="32.5" lengthAdjust="spacingAndGlyphs">0.91610</text>
<rect x="1598" y="293" width="40" height="11" fill="#000"/>
<text x="1602.3" y="302" font-size="9.8" fill="#fff" text-anchor="start" textLength="32.5" lengthAdjust="spacingAndGlyphs">0.96738</text>
<rect x="1598" y="94" width="40" height="11" fill="#ff0000"/>
<text x="1602.3" y="103" font-size="9.8" fill="#fff" text-anchor="start" textLength="32.5" lengthAdjust="spacingAndGlyphs">1.01207</text>
<rect x="1598" y="156" width="40" height="11" fill="#ff0000"/>
<text x="1602.3" y="165" font-size="9.8" fill="#fff" text-anchor="start" textLength="32.5" lengthAdjust="spacingAndGlyphs">0.99800</text>
<rect x="1598" y="205" width="40" height="11" fill="#ff0000"/>
<text x="1602.3" y="214" font-size="9.8" fill="#fff" text-anchor="start" textLength="32.5" lengthAdjust="spacingAndGlyphs">0.98703</text>
<rect x="1598" y="251" width="40" height="11" fill="#ff0000"/>
<text x="1602.3" y="260" font-size="9.8" fill="#fff" text-anchor="start" textLength="32.5" lengthAdjust="spacingAndGlyphs">0.97658</text>
<rect x="1598" y="289" width="40" height="11" fill="#00ff00"/>
<text x="1602.3" y="298" font-size="9.8" fill="#fff" text-anchor="start" textLength="32.5" lengthAdjust="spacingAndGlyphs">0.96803</text>
<rect x="1598" y="340" width="40" height="11" fill="#0000ff"/>
<text x="1602.3" y="349" font-size="9.8" fill="#fff" text-anchor="start" textLength="32.5" lengthAdjust="spacingAndGlyphs">0.95663</text>
<rect x="1598" y="396" width="40" height="11" fill="#0000ff"/>
<text x="1602.3" y="405" font-size="9.8" fill="#fff" text-anchor="start" textLength="32.5" lengthAdjust="spacingAndGlyphs">0.94404</text>
<rect x="1598" y="458" width="40" height="11" fill="#0000ff"/>
<text x="1602.3" y="467" font-size="9.8" fill="#fff" text-anchor="start" textLength="32.5" lengthAdjust="spacingAndGlyphs">0.93011</text>
<path d="M7 29 L14 29 L10.5 33 Z" fill="#000"/>
<text x="19.2" y="35" font-size="9.8" fill="#000" text-anchor="start" textLength="64" lengthAdjust="spacingAndGlyphs">USDCHF,Daily</text>
<text x="90" y="35" font-size="9.8" fill="#000" text-anchor="start" textLength="140.8" lengthAdjust="spacingAndGlyphs">0.96617 0.96820 0.96607 0.96738</text>
<path d="M5 559.5H1596" stroke="#c0c0c0" stroke-width="1" stroke-dasharray="3 3" fill="none"/>
<path d="M5 595.5H1596" stroke="#c0c0c0" stroke-width="1" stroke-dasharray="3 3" fill="none"/>
<path d="M9 556h1v2h-1zM11 553h1v2h-1zM26 551h1v2h-1zM28 549h1v2h-1zM29 551h1v2h-1zM30 553h1v2h-1zM31 555h1v2h-1zM32 557h1v2h-1zM52 558h1v2h-1zM53 560h1v4h-1zM54 564h1v4h-1zM55 568h1v4h-1zM56 572h1v2h-1zM57 571h1v2h-1zM59 568h1v2h-1zM77 564h1v2h-1zM79 567h1v2h-1zM80 569h1v2h-1zM81 571h1v2h-1zM82 573h1v2h-1zM83 575h1v2h-1zM84 577h1v2h-1zM92 578h1v2h-1zM93 580h1v2h-1zM94 582h1v2h-1zM95 584h1v2h-1zM129 583h1v2h-1zM131 586h1v2h-1zM141 589h1v2h-1zM142 587h1v2h-1zM143 585h1v2h-1zM145 582h1v2h-1zM147 579h1v2h-1zM157 580h1v2h-1zM159 583h1v2h-1zM170 591h1v2h-1zM189 598h1v2h-1zM190 596h1v2h-1zM191 594h1v2h-1zM194 590h1v2h-1zM205 583h1v2h-1zM206 581h1v2h-1zM207 579h1v2h-1zM222 579h1v2h-1zM224 582h1v2h-1zM225 584h1v4h-1zM226 588h1v3h-1zM227 591h1v4h-1zM228 595h1v2h-1zM245 598h1v2h-1zM247 595h1v2h-1zM260 593h1v3h-1zM261 589h1v4h-1zM262 585h1v4h-1zM263 581h1v4h-1zM264 578h1v3h-1zM276 579h1v2h-1zM277 577h1v2h-1zM278 575h1v2h-1zM279 573h1v2h-1zM280 571h1v2h-1zM294 574h1v2h-1zM302 579h1v2h-1zM313 579h1v2h-1zM315 576h1v2h-1zM326 581h1v2h-1zM338 582h1v2h-1zM345 576h1v2h-1zM347 573h1v2h-1zM358 569h1v2h-1zM370 571h1v2h-1zM372 569h1v2h-1zM373 571h1v4h-1zM374 575h1v4h-1zM375 579h1v4h-1zM376 583h1v2h-1zM380 584h1v2h-1zM381 586h1v2h-1zM382 588h1v2h-1zM383 590h1v2h-1zM384 592h1v2h-1zM385 590h1v2h-1zM386 588h1v2h-1zM387 586h1v2h-1zM390 587h1v2h-1zM394 587h1v2h-1zM409 587h1v2h-1zM411 584h1v2h-1zM444 573h1v2h-1zM445 575h1v2h-1zM446 577h1v2h-1zM447 579h1v2h-1zM448 581h1v2h-1zM454 580h1v2h-1zM466 573h1v2h-1zM485 572h1v2h-1zM486 574h1v2h-1zM487 576h1v2h-1zM489 576h1v2h-1zM491 573h1v2h-1zM513 568h1v2h-1zM515 571h1v2h-1zM558 576h1v2h-1zM572 574h1v2h-1zM573 572h1v2h-1zM574 569h1v3h-1zM575 567h1v2h-1zM576 565h1v2h-1zM577 566h1v2h-1zM578 568h1v2h-1zM579 570h1v2h-1zM629 569h1v2h-1zM631 572h1v2h-1zM632 574h1v2h-1zM633 576h1v3h-1zM634 579h1v4h-1zM635 583h1v3h-1zM636 586h1v2h-1zM650 583h1v2h-1zM674 572h1v2h-1zM678 577h1v2h-1zM681 581h1v2h-1zM683 584h1v2h-1zM696 584h1v2h-1zM697 582h1v2h-1zM698 579h1v3h-1zM699 577h1v2h-1zM700 575h1v2h-1zM717 568h1v2h-1zM719 571h1v2h-1zM724 574h1v2h-1zM725 576h1v2h-1zM726 578h1v2h-1zM727 580h1v2h-1zM746 581h1v2h-1zM756 577h1v2h-1zM757 575h1v2h-1zM758 573h1v2h-1zM759 571h1v2h-1zM788 565h1v2h-1zM789 567h1v4h-1zM790 571h1v3h-1zM791 574h1v4h-1zM792 578h1v3h-1zM793 581h1v2h-1zM794 583h1v2h-1zM795 585h1v2h-1zM796 587h1v2h-1zM798 585h1v2h-1zM806 582h1v2h-1zM830 587h1v2h-1zM842 589h1v2h-1zM853 590h1v2h-1zM854 588h1v2h-1zM855 586h1v2h-1zM877 585h1v2h-1zM878 587h1v2h-1zM879 589h1v2h-1zM913 590h1v2h-1zM915 587h1v2h-1zM948 593h1v2h-1zM949 591h1v2h-1zM950 589h1v2h-1zM951 587h1v2h-1zM984 580h1v2h-1zM985 578h1v2h-1zM986 576h1v2h-1zM987 574h1v2h-1zM992 571h1v2h-1zM993 573h1v3h-1zM994 576h1v2h-1zM995 578h1v3h-1zM996 581h1v2h-1zM997 583h1v2h-1zM999 586h1v2h-1zM1006 586h1v2h-1zM1009 582h1v2h-1zM1011 579h1v2h-1zM1014 575h1v2h-1zM1068 564h1v2h-1zM1069 566h1v2h-1zM1070 568h1v3h-1zM1071 571h1v2h-1zM1072 573h1v2h-1zM1088 575h1v2h-1zM1089 577h1v3h-1zM1090 580h1v4h-1zM1091 584h1v3h-1zM1092 587h1v2h-1zM1102 596h1v2h-1zM1118 607h1v2h-1zM1129 610h1v2h-1zM1131 607h1v2h-1zM1132 605h1v2h-1zM1133 603h1v2h-1zM1134 601h1v2h-1zM1135 599h1v2h-1zM1136 596h1v3h-1zM1137 592h1v4h-1zM1138 588h1v4h-1zM1139 584h1v4h-1zM1140 581h1v3h-1zM1149 580h1v2h-1zM1150 582h1v2h-1zM1151 584h1v2h-1zM1152 585h1v2h-1zM1153 581h1v4h-1zM1154 578h1v3h-1zM1155 574h1v4h-1zM1156 572h1v2h-1zM1162 565h1v2h-1zM1174 563h1v2h-1zM1184 570h1v2h-1zM1185 572h1v2h-1zM1186 574h1v2h-1zM1187 576h1v2h-1zM1188 578h1v2h-1zM1190 581h1v2h-1zM1198 582h1v2h-1zM1249 578h1v2h-1zM1251 581h1v2h-1zM27 550h1v1h-1zM12 552h3v1h-3zM15 553h2v1h-2zM25 553h1v1h-1zM17 554h2v1h-2zM24 554h1v1h-1zM10 555h1v1h-1zM19 555h1v1h-1zM22 555h2v1h-2zM20 556h2v1h-2zM35 557h3v1h-3zM8 558h1v1h-1zM33 558h2v1h-2zM38 558h2v1h-2zM47 558h5v1h-5zM7 559h1v1h-1zM40 559h7v1h-7zM6 560h1v1h-1zM5 561h1v1h-1zM1064 561h1v1h-1zM1168 561h5v1h-5zM4 562h1v1h-1zM1051 562h7v1h-7zM1063 562h1v1h-1zM1065 562h2v1h-2zM1166 562h2v1h-2zM1173 562h1v1h-1zM76 563h1v1h-1zM1048 563h3v1h-3zM1058 563h2v1h-2zM1061 563h2v1h-2zM1067 563h1v1h-1zM1164 563h2v1h-2zM75 564h1v1h-1zM1047 564h1v1h-1zM1060 564h1v1h-1zM1163 564h1v1h-1zM74 565h1v1h-1zM787 565h1v1h-1zM1046 565h1v1h-1zM1175 565h1v1h-1zM73 566h1v1h-1zM78 566h1v1h-1zM536 566h1v1h-1zM775 566h4v1h-4zM783 566h4v1h-4zM1045 566h1v1h-1zM1176 566h3v1h-3zM60 567h3v1h-3zM71 567h2v1h-2zM355 567h2v1h-2zM472 567h9v1h-9zM512 567h1v1h-1zM535 567h1v1h-1zM537 567h1v1h-1zM715 567h2v1h-2zM772 567h3v1h-3zM779 567h4v1h-4zM1044 567h1v1h-1zM1161 567h1v1h-1zM1179 567h2v1h-2zM63 568h8v1h-8zM352 568h3v1h-3zM357 568h1v1h-1zM471 568h1v1h-1zM481 568h1v1h-1zM511 568h1v1h-1zM533 568h2v1h-2zM538 568h1v1h-1zM584 568h6v1h-6zM628 568h1v1h-1zM712 568h3v1h-3zM764 568h3v1h-3zM770 568h2v1h-2zM1027 568h11v1h-11zM1043 568h1v1h-1zM1160 568h1v1h-1zM1181 568h2v1h-2zM351 569h1v1h-1zM470 569h1v1h-1zM482 569h1v1h-1zM504 569h3v1h-3zM509 569h2v1h-2zM528 569h5v1h-5zM539 569h1v1h-1zM543 569h2v1h-2zM583 569h1v1h-1zM590 569h2v1h-2zM619 569h4v1h-4zM626 569h2v1h-2zM711 569h1v1h-1zM762 569h2v1h-2zM767 569h3v1h-3zM1024 569h3v1h-3zM1038 569h2v1h-2zM1041 569h2v1h-2zM1159 569h1v1h-1zM1183 569h1v1h-1zM58 570h1v1h-1zM288 570h2v1h-2zM350 570h1v1h-1zM371 570h1v1h-1zM469 570h1v1h-1zM483 570h1v1h-1zM503 570h1v1h-1zM507 570h2v1h-2zM514 570h1v1h-1zM526 570h2v1h-2zM540 570h3v1h-3zM545 570h2v1h-2zM582 570h1v1h-1zM592 570h1v1h-1zM616 570h3v1h-3zM623 570h3v1h-3zM672 570h1v1h-1zM709 570h2v1h-2zM718 570h1v1h-1zM760 570h2v1h-2zM1022 570h2v1h-2zM1040 570h1v1h-1zM1158 570h1v1h-1zM1216 570h3v1h-3zM281 571h2v1h-2zM286 571h2v1h-2zM290 571h2v1h-2zM349 571h1v1h-1zM359 571h1v1h-1zM468 571h1v1h-1zM484 571h1v1h-1zM501 571h2v1h-2zM523 571h3v1h-3zM547 571h1v1h-1zM564 571h2v1h-2zM581 571h1v1h-1zM593 571h2v1h-2zM614 571h2v1h-2zM630 571h1v1h-1zM670 571h2v1h-2zM673 571h1v1h-1zM708 571h1v1h-1zM1020 571h2v1h-2zM1157 571h1v1h-1zM1215 571h1v1h-1zM1219 571h6v1h-6zM283 572h3v1h-3zM292 572h1v1h-1zM348 572h1v1h-1zM360 572h2v1h-2zM467 572h1v1h-1zM492 572h3v1h-3zM499 572h2v1h-2zM519 572h4v1h-4zM548 572h1v1h-1zM563 572h1v1h-1zM566 572h2v1h-2zM580 572h1v1h-1zM595 572h1v1h-1zM611 572h3v1h-3zM664 572h6v1h-6zM707 572h1v1h-1zM990 572h2v1h-2zM1018 572h2v1h-2zM1213 572h2v1h-2zM1225 572h1v1h-1zM293 573h1v1h-1zM362 573h2v1h-2zM369 573h1v1h-1zM495 573h4v1h-4zM516 573h3v1h-3zM549 573h1v1h-1zM561 573h2v1h-2zM568 573h2v1h-2zM596 573h6v1h-6zM608 573h3v1h-3zM663 573h1v1h-1zM705 573h2v1h-2zM720 573h3v1h-3zM988 573h2v1h-2zM1016 573h2v1h-2zM1212 573h1v1h-1zM1226 573h1v1h-1zM364 574h5v1h-5zM442 574h2v1h-2zM550 574h1v1h-1zM560 574h1v1h-1zM570 574h2v1h-2zM602 574h2v1h-2zM606 574h2v1h-2zM662 574h1v1h-1zM675 574h1v1h-1zM703 574h2v1h-2zM723 574h1v1h-1zM1015 574h1v1h-1zM1073 574h2v1h-2zM1211 574h1v1h-1zM1227 574h1v1h-1zM316 575h1v1h-1zM346 575h1v1h-1zM440 575h2v1h-2zM460 575h3v1h-3zM465 575h1v1h-1zM490 575h1v1h-1zM551 575h1v1h-1zM559 575h1v1h-1zM604 575h2v1h-2zM661 575h1v1h-1zM676 575h1v1h-1zM701 575h2v1h-2zM752 575h1v1h-1zM1075 575h8v1h-8zM1087 575h1v1h-1zM1209 575h2v1h-2zM1228 575h5v1h-5zM1260 575h1v1h-1zM295 576h1v1h-1zM317 576h1v1h-1zM432 576h2v1h-2zM439 576h1v1h-1zM459 576h1v1h-1zM463 576h2v1h-2zM552 576h1v1h-1zM660 576h1v1h-1zM677 576h1v1h-1zM751 576h1v1h-1zM753 576h2v1h-2zM1083 576h4v1h-4zM1208 576h1v1h-1zM1233 576h1v1h-1zM1259 576h1v1h-1zM1261 576h2v1h-2zM219 577h2v1h-2zM296 577h5v1h-5zM318 577h1v1h-1zM424 577h2v1h-2zM431 577h1v1h-1zM434 577h2v1h-2zM437 577h2v1h-2zM457 577h2v1h-2zM553 577h2v1h-2zM658 577h2v1h-2zM750 577h1v1h-1zM755 577h1v1h-1zM1013 577h1v1h-1zM1206 577h2v1h-2zM1234 577h1v1h-1zM1248 577h1v1h-1zM1258 577h1v1h-1zM1263 577h1v1h-1zM1267 577h2v1h-2zM148 578h1v1h-1zM208 578h11v1h-11zM221 578h1v1h-1zM265 578h2v1h-2zM271 578h3v1h-3zM301 578h1v1h-1zM314 578h1v1h-1zM319 578h1v1h-1zM344 578h1v1h-1zM423 578h1v1h-1zM426 578h2v1h-2zM429 578h2v1h-2zM436 578h1v1h-1zM456 578h1v1h-1zM488 578h1v1h-1zM555 578h1v1h-1zM557 578h1v1h-1zM656 578h2v1h-2zM749 578h1v1h-1zM1012 578h1v1h-1zM1204 578h2v1h-2zM1235 578h1v1h-1zM1246 578h2v1h-2zM1257 578h1v1h-1zM1264 578h3v1h-3zM85 579h2v1h-2zM91 579h1v1h-1zM111 579h6v1h-6zM124 579h1v1h-1zM149 579h2v1h-2zM156 579h1v1h-1zM267 579h4v1h-4zM274 579h2v1h-2zM320 579h5v1h-5zM342 579h2v1h-2zM422 579h1v1h-1zM428 579h1v1h-1zM455 579h1v1h-1zM556 579h1v1h-1zM655 579h1v1h-1zM679 579h1v1h-1zM748 579h1v1h-1zM976 579h3v1h-3zM1148 579h1v1h-1zM1202 579h2v1h-2zM1236 579h3v1h-3zM1243 579h3v1h-3zM1256 579h1v1h-1zM87 580h1v1h-1zM89 580h2v1h-2zM108 580h3v1h-3zM117 580h1v1h-1zM123 580h1v1h-1zM125 580h2v1h-2zM151 580h1v1h-1zM154 580h2v1h-2zM325 580h1v1h-1zM340 580h2v1h-2zM421 580h1v1h-1zM653 580h2v1h-2zM680 580h1v1h-1zM747 580h1v1h-1zM808 580h3v1h-3zM975 580h1v1h-1zM979 580h4v1h-4zM1146 580h2v1h-2zM1189 580h1v1h-1zM1200 580h2v1h-2zM1239 580h4v1h-4zM1250 580h1v1h-1zM1255 580h1v1h-1zM88 581h1v1h-1zM106 581h2v1h-2zM118 581h1v1h-1zM122 581h1v1h-1zM127 581h1v1h-1zM146 581h1v1h-1zM152 581h2v1h-2zM223 581h1v1h-1zM303 581h1v1h-1zM311 581h2v1h-2zM339 581h1v1h-1zM420 581h1v1h-1zM652 581h1v1h-1zM736 581h5v1h-5zM807 581h1v1h-1zM811 581h3v1h-3zM968 581h3v1h-3zM973 581h2v1h-2zM983 581h1v1h-1zM1010 581h1v1h-1zM1141 581h5v1h-5zM1199 581h1v1h-1zM1254 581h1v1h-1zM100 582h6v1h-6zM119 582h1v1h-1zM121 582h1v1h-1zM128 582h1v1h-1zM158 582h1v1h-1zM304 582h7v1h-7zM419 582h1v1h-1zM449 582h2v1h-2zM453 582h1v1h-1zM651 582h1v1h-1zM728 582h3v1h-3zM734 582h2v1h-2zM741 582h2v1h-2zM814 582h2v1h-2zM927 582h3v1h-3zM967 582h1v1h-1zM971 582h2v1h-2zM1253 582h1v1h-1zM99 583h1v1h-1zM120 583h1v1h-1zM327 583h1v1h-1zM412 583h3v1h-3zM417 583h2v1h-2zM451 583h2v1h-2zM682 583h1v1h-1zM731 583h3v1h-3zM743 583h1v1h-1zM745 583h1v1h-1zM800 583h2v1h-2zM816 583h1v1h-1zM860 583h3v1h-3zM924 583h3v1h-3zM930 583h2v1h-2zM960 583h2v1h-2zM966 583h1v1h-1zM1191 583h1v1h-1zM1252 583h1v1h-1zM98 584h1v1h-1zM144 584h1v1h-1zM200 584h3v1h-3zM328 584h7v1h-7zM337 584h1v1h-1zM377 584h3v1h-3zM415 584h2v1h-2zM744 584h1v1h-1zM799 584h1v1h-1zM802 584h2v1h-2zM805 584h1v1h-1zM817 584h2v1h-2zM858 584h2v1h-2zM863 584h2v1h-2zM876 584h1v1h-1zM923 584h1v1h-1zM932 584h2v1h-2zM959 584h1v1h-1zM962 584h2v1h-2zM965 584h1v1h-1zM1008 584h1v1h-1zM1192 584h3v1h-3zM1197 584h1v1h-1zM97 585h1v1h-1zM130 585h1v1h-1zM160 585h1v1h-1zM199 585h1v1h-1zM203 585h2v1h-2zM335 585h2v1h-2zM388 585h1v1h-1zM396 585h1v1h-1zM649 585h1v1h-1zM695 585h1v1h-1zM804 585h1v1h-1zM819 585h1v1h-1zM827 585h2v1h-2zM856 585h2v1h-2zM865 585h2v1h-2zM875 585h1v1h-1zM922 585h1v1h-1zM934 585h2v1h-2zM957 585h2v1h-2zM964 585h1v1h-1zM998 585h1v1h-1zM1007 585h1v1h-1zM1195 585h2v1h-2zM96 586h1v1h-1zM161 586h2v1h-2zM198 586h1v1h-1zM389 586h1v1h-1zM395 586h1v1h-1zM397 586h2v1h-2zM410 586h1v1h-1zM648 586h1v1h-1zM684 586h3v1h-3zM691 586h4v1h-4zM820 586h7v1h-7zM829 586h1v1h-1zM836 586h3v1h-3zM867 586h1v1h-1zM874 586h1v1h-1zM916 586h3v1h-3zM921 586h1v1h-1zM936 586h1v1h-1zM952 586h5v1h-5zM163 587h1v1h-1zM197 587h1v1h-1zM399 587h1v1h-1zM403 587h3v1h-3zM637 587h1v1h-1zM647 587h1v1h-1zM687 587h4v1h-4zM797 587h1v1h-1zM835 587h1v1h-1zM839 587h2v1h-2zM868 587h3v1h-3zM873 587h1v1h-1zM919 587h2v1h-2zM937 587h2v1h-2zM132 588h2v1h-2zM164 588h3v1h-3zM196 588h1v1h-1zM400 588h3v1h-3zM406 588h2v1h-2zM638 588h2v1h-2zM645 588h2v1h-2zM834 588h1v1h-1zM841 588h1v1h-1zM848 588h1v1h-1zM871 588h2v1h-2zM908 588h1v1h-1zM939 588h1v1h-1zM1000 588h3v1h-3zM1005 588h1v1h-1zM134 589h2v1h-2zM167 589h2v1h-2zM195 589h1v1h-1zM391 589h1v1h-1zM393 589h1v1h-1zM408 589h1v1h-1zM640 589h5v1h-5zM831 589h1v1h-1zM833 589h1v1h-1zM847 589h1v1h-1zM849 589h1v1h-1zM907 589h1v1h-1zM909 589h1v1h-1zM914 589h1v1h-1zM940 589h1v1h-1zM1003 589h2v1h-2zM1093 589h2v1h-2zM136 590h3v1h-3zM169 590h1v1h-1zM392 590h1v1h-1zM832 590h1v1h-1zM846 590h1v1h-1zM850 590h1v1h-1zM906 590h1v1h-1zM910 590h1v1h-1zM941 590h1v1h-1zM1095 590h1v1h-1zM139 591h2v1h-2zM843 591h1v1h-1zM845 591h1v1h-1zM851 591h1v1h-1zM880 591h1v1h-1zM905 591h1v1h-1zM911 591h1v1h-1zM942 591h1v1h-1zM1096 591h1v1h-1zM193 592h1v1h-1zM844 592h1v1h-1zM852 592h1v1h-1zM881 592h2v1h-2zM904 592h1v1h-1zM912 592h1v1h-1zM943 592h1v1h-1zM1097 592h2v1h-2zM171 593h1v1h-1zM192 593h1v1h-1zM883 593h1v1h-1zM903 593h1v1h-1zM944 593h3v1h-3zM1099 593h1v1h-1zM172 594h2v1h-2zM248 594h7v1h-7zM884 594h1v1h-1zM901 594h2v1h-2zM947 594h1v1h-1zM1100 594h1v1h-1zM174 595h2v1h-2zM255 595h5v1h-5zM885 595h2v1h-2zM900 595h1v1h-1zM1101 595h1v1h-1zM176 596h2v1h-2zM229 596h1v1h-1zM887 596h1v1h-1zM899 596h1v1h-1zM178 597h2v1h-2zM230 597h2v1h-2zM246 597h1v1h-1zM888 597h3v1h-3zM897 597h2v1h-2zM180 598h3v1h-3zM232 598h3v1h-3zM891 598h6v1h-6zM1103 598h1v1h-1zM183 599h4v1h-4zM235 599h2v1h-2zM1104 599h1v1h-1zM187 600h2v1h-2zM237 600h2v1h-2zM244 600h1v1h-1zM1105 600h2v1h-2zM239 601h1v1h-1zM242 601h2v1h-2zM1107 601h1v1h-1zM240 602h2v1h-2zM1108 602h5v1h-5zM1113 603h2v1h-2zM1115 604h1v1h-1zM1116 605h1v1h-1zM1117 606h1v1h-1zM1119 609h1v1h-1zM1130 609h1v1h-1zM1120 610h3v1h-3zM1123 611h4v1h-4zM1127 612h2v1h-2z" fill="#1e90ff"/>
<rect x="7" y="535" width="66" height="11" fill="#fff"/>
<text x="8.2" y="544" font-size="9.8" fill="#000" text-anchor="start" textLength="67.5" lengthAdjust="spacingAndGlyphs">RSI(14) 50.2229</text>
<rect x="1597" y="532" width="2" height="1" fill="#000"/>
<text x="1600.8" y="542" font-size="9.8" fill="#000" text-anchor="start" textLength="15" lengthAdjust="spacingAndGlyphs">100</text>
<rect x="1597" y="559" width="2" height="1" fill="#000"/>
<text x="1600.8" y="563" font-size="9.8" fill="#000" text-anchor="start" textLength="10" lengthAdjust="spacingAndGlyphs">70</text>
<rect x="1597" y="595" width="2" height="1" fill="#000"/>
<text x="1600.8" y="599" font-size="9.8" fill="#000" text-anchor="start" textLength="10" lengthAdjust="spacingAndGlyphs">30</text>
<rect x="1597" y="622" width="2" height="1" fill="#000"/>
<text x="1600.8" y="619.5" font-size="9.8" fill="#000" text-anchor="start" textLength="5" lengthAdjust="spacingAndGlyphs">0</text>
<path d="M4 652h1v7h-1zM8 649h1v10h-1zM12 645h1v14h-1zM16 642h1v17h-1zM20 640h1v19h-1zM24 638h1v21h-1zM28 635h1v24h-1zM32 633h1v26h-1zM36 632h1v27h-1zM40 632h1v27h-1zM44 632h1v27h-1zM48 632h1v27h-1zM52 632h1v27h-1zM56 635h1v24h-1zM60 636h1v23h-1zM64 637h1v22h-1zM68 638h1v21h-1zM72 639h1v20h-1zM76 639h1v20h-1zM80 640h1v19h-1zM84 643h1v16h-1zM88 647h1v12h-1zM92 649h1v10h-1zM96 653h1v6h-1zM100 656h1v3h-1zM104 657h1v2h-1zM112 658h1v2h-1zM116 658h1v2h-1zM120 658h1v4h-1zM124 658h1v4h-1zM128 658h1v5h-1zM132 658h1v7h-1zM136 658h1v10h-1zM140 658h1v12h-1zM144 658h1v12h-1zM148 658h1v11h-1zM152 658h1v10h-1zM156 658h1v9h-1zM160 658h1v10h-1zM164 658h1v12h-1zM168 658h1v14h-1zM172 658h1v17h-1zM176 658h1v20h-1zM180 658h1v24h-1zM184 658h1v27h-1zM188 658h1v29h-1zM192 658h1v30h-1zM196 658h1v28h-1zM200 658h1v26h-1zM204 658h1v24h-1zM208 658h1v21h-1zM212 658h1v18h-1zM216 658h1v16h-1zM220 658h1v13h-1zM224 658h1v13h-1zM228 658h1v18h-1zM232 658h1v23h-1zM236 658h1v27h-1zM240 658h1v32h-1zM244 658h1v35h-1zM248 658h1v36h-1zM252 658h1v36h-1zM256 658h1v36h-1zM260 658h1v36h-1zM264 658h1v31h-1zM268 658h1v27h-1zM272 658h1v24h-1zM276 658h1v21h-1zM280 658h1v16h-1zM284 658h1v12h-1zM288 658h1v8h-1zM292 658h1v5h-1zM296 658h1v4h-1zM300 658h1v4h-1zM304 658h1v5h-1zM308 658h1v6h-1zM312 658h1v6h-1zM316 658h1v5h-1zM320 658h1v5h-1zM324 658h1v5h-1zM328 658h1v7h-1zM332 658h1v7h-1zM336 658h1v9h-1zM340 658h1v8h-1zM344 658h1v7h-1zM348 658h1v5h-1zM352 658h1v2h-1zM356 656h1v3h-1zM360 655h1v4h-1zM364 654h1v5h-1zM368 654h1v5h-1zM372 652h1v7h-1zM376 656h1v3h-1zM384 658h1v8h-1zM388 658h1v10h-1zM392 658h1v15h-1zM396 658h1v16h-1zM400 658h1v19h-1zM404 658h1v21h-1zM408 658h1v23h-1zM412 658h1v22h-1zM416 658h1v22h-1zM420 658h1v20h-1zM424 658h1v17h-1zM428 658h1v16h-1zM432 658h1v13h-1zM436 658h1v11h-1zM440 658h1v9h-1zM444 658h1v6h-1zM448 658h1v8h-1zM452 658h1v9h-1zM456 658h1v8h-1zM460 658h1v6h-1zM464 658h1v5h-1zM468 658h1v2h-1zM472 655h1v4h-1zM476 652h1v7h-1zM480 649h1v10h-1zM484 648h1v11h-1zM488 650h1v9h-1zM492 649h1v10h-1zM496 649h1v10h-1zM500 649h1v10h-1zM504 647h1v12h-1zM508 646h1v13h-1zM512 645h1v14h-1zM516 645h1v14h-1zM520 645h1v14h-1zM524 645h1v14h-1zM528 645h1v14h-1zM532 645h1v14h-1zM536 643h1v16h-1zM540 644h1v15h-1zM544 644h1v15h-1zM548 645h1v14h-1zM552 646h1v13h-1zM556 649h1v10h-1zM560 649h1v10h-1zM564 649h1v10h-1zM568 649h1v10h-1zM572 650h1v9h-1zM576 648h1v11h-1zM580 648h1v11h-1zM584 647h1v12h-1zM588 646h1v13h-1zM592 646h1v13h-1zM596 646h1v13h-1zM600 647h1v12h-1zM604 648h1v11h-1zM608 649h1v10h-1zM612 649h1v10h-1zM616 649h1v10h-1zM620 648h1v11h-1zM624 648h1v11h-1zM628 648h1v11h-1zM632 649h1v10h-1zM636 653h1v6h-1zM640 657h1v2h-1zM644 658h1v3h-1zM648 658h1v5h-1zM652 658h1v6h-1zM656 658h1v5h-1zM660 658h1v4h-1zM664 658h1v3h-1zM672 657h1v2h-1zM676 656h1v3h-1zM680 657h1v2h-1zM684 658h1v3h-1zM688 658h1v5h-1zM692 658h1v7h-1zM696 658h1v8h-1zM700 658h1v6h-1zM704 658h1v5h-1zM708 658h1v3h-1zM712 657h1v2h-1zM716 655h1v4h-1zM720 654h1v5h-1zM724 654h1v5h-1zM728 656h1v3h-1zM736 658h1v2h-1zM740 658h1v3h-1zM744 658h1v4h-1zM748 658h1v4h-1zM752 658h1v3h-1zM756 658h1v3h-1zM764 655h1v4h-1zM768 654h1v5h-1zM772 652h1v7h-1zM776 650h1v9h-1zM780 649h1v10h-1zM784 648h1v11h-1zM788 648h1v11h-1zM792 650h1v9h-1zM796 654h1v5h-1zM800 657h1v2h-1zM804 658h1v2h-1zM808 658h1v3h-1zM812 658h1v4h-1zM816 658h1v5h-1zM820 658h1v7h-1zM824 658h1v8h-1zM828 658h1v9h-1zM832 658h1v11h-1zM836 658h1v12h-1zM840 658h1v13h-1zM844 658h1v15h-1zM848 658h1v16h-1zM852 658h1v17h-1zM856 658h1v17h-1zM860 658h1v16h-1zM864 658h1v16h-1zM868 658h1v16h-1zM872 658h1v16h-1zM876 658h1v16h-1zM880 658h1v17h-1zM884 658h1v19h-1zM888 658h1v22h-1zM892 658h1v25h-1zM896 658h1v27h-1zM900 658h1v27h-1zM904 658h1v27h-1zM908 658h1v25h-1zM912 658h1v26h-1zM916 658h1v24h-1zM920 658h1v23h-1zM924 658h1v21h-1zM928 658h1v20h-1zM932 658h1v18h-1zM936 658h1v18h-1zM940 658h1v18h-1zM944 658h1v19h-1zM948 658h1v21h-1zM952 658h1v20h-1zM956 658h1v19h-1zM960 658h1v18h-1zM964 658h1v17h-1zM968 658h1v16h-1zM972 658h1v14h-1zM976 658h1v13h-1zM980 658h1v11h-1zM984 658h1v11h-1zM988 658h1v8h-1zM992 658h1v6h-1zM996 658h1v6h-1zM1000 658h1v8h-1zM1004 658h1v10h-1zM1008 658h1v11h-1zM1012 658h1v9h-1zM1016 658h1v7h-1zM1020 658h1v4h-1zM1028 656h1v3h-1zM1032 654h1v5h-1zM1036 653h1v6h-1zM1040 652h1v7h-1zM1044 650h1v9h-1zM1048 648h1v11h-1zM1052 647h1v12h-1zM1056 645h1v14h-1zM1060 645h1v14h-1zM1064 644h1v15h-1zM1068 643h1v16h-1zM1072 645h1v14h-1zM1076 646h1v13h-1zM1080 648h1v11h-1zM1084 649h1v10h-1zM1088 650h1v9h-1zM1092 654h1v5h-1zM1100 658h1v5h-1zM1104 658h1v10h-1zM1108 658h1v16h-1zM1112 658h1v21h-1zM1116 658h1v26h-1zM1120 658h1v35h-1zM1124 658h1v42h-1zM1128 658h1v50h-1zM1132 658h1v54h-1zM1136 658h1v54h-1zM1140 658h1v48h-1zM1144 658h1v42h-1zM1148 658h1v37h-1zM1152 658h1v36h-1zM1156 658h1v27h-1zM1160 658h1v17h-1zM1164 658h1v4h-1zM1168 650h1v9h-1zM1172 641h1v18h-1zM1176 636h1v23h-1zM1180 634h1v25h-1zM1184 633h1v26h-1zM1188 638h1v21h-1zM1192 646h1v13h-1zM1196 653h1v6h-1zM1200 656h1v3h-1zM1204 657h1v2h-1zM1208 656h1v3h-1zM1212 654h1v5h-1zM1216 650h1v9h-1zM1220 647h1v12h-1zM1224 645h1v14h-1zM1228 646h1v13h-1zM1232 647h1v12h-1zM1236 650h1v9h-1zM1240 652h1v7h-1zM1244 654h1v5h-1zM1248 655h1v4h-1zM1256 658h1v2h-1zM1264 658h1v2h-1z" fill="#c0c0c0"/>
<rect x="7" y="629" width="153" height="9" fill="#fff"/>
<text x="8.2" y="638" font-size="9.8" fill="#000" text-anchor="start" textLength="150" lengthAdjust="spacingAndGlyphs">MACD(12,26,9) -0.000072 0.000414</text>
<path d="M1125 675h1v2h-1zM1129 681h1v2h-1zM1162 695h1v2h-1zM1166 689h1v2h-1zM1169 683h1v2h-1zM1172 677h1v2h-1zM1175 671h1v2h-1zM1178 666h1v2h-1zM1182 659h1v2h-1zM1185 654h1v2h-1zM58 633h3v1h-3zM52 634h3v1h-3zM64 634h3v1h-3zM70 634h1v1h-1zM48 635h1v1h-1zM71 635h2v1h-2zM46 636h2v1h-2zM76 636h3v1h-3zM82 637h2v1h-2zM40 638h3v1h-3zM84 638h1v1h-1zM88 639h2v1h-2zM90 640h1v1h-1zM36 641h1v1h-1zM34 642h2v1h-2zM94 642h2v1h-2zM96 643h1v1h-1zM1201 643h2v1h-2zM30 644h1v1h-1zM1196 644h2v1h-2zM1203 644h1v1h-1zM28 645h2v1h-2zM100 645h2v1h-2zM538 645h3v1h-3zM544 645h3v1h-3zM550 645h3v1h-3zM556 645h3v1h-3zM562 645h1v1h-1zM1195 645h1v1h-1zM1207 645h3v1h-3zM102 646h1v1h-1zM527 646h2v1h-2zM532 646h3v1h-3zM563 646h2v1h-2zM568 646h3v1h-3zM1072 646h3v1h-3zM1078 646h3v1h-3zM1084 646h3v1h-3zM1090 646h1v1h-1zM520 647h3v1h-3zM526 647h1v1h-1zM574 647h1v1h-1zM599 647h2v1h-2zM604 647h3v1h-3zM610 647h3v1h-3zM616 647h3v1h-3zM622 647h1v1h-1zM1068 647h1v1h-1zM1091 647h2v1h-2zM1191 647h1v1h-1zM1213 647h1v1h-1zM24 648h1v1h-1zM106 648h2v1h-2zM514 648h3v1h-3zM575 648h2v1h-2zM580 648h3v1h-3zM586 648h3v1h-3zM592 648h3v1h-3zM598 648h1v1h-1zM623 648h2v1h-2zM628 648h3v1h-3zM634 648h1v1h-1zM1066 648h2v1h-2zM1190 648h1v1h-1zM1214 648h2v1h-2zM22 649h2v1h-2zM108 649h1v1h-1zM508 649h3v1h-3zM635 649h2v1h-2zM1096 649h2v1h-2zM1189 649h1v1h-1zM1243 649h3v1h-3zM503 650h2v1h-2zM640 650h3v1h-3zM1060 650h3v1h-3zM1098 650h1v1h-1zM1219 650h1v1h-1zM1237 650h3v1h-3zM1249 650h2v1h-2zM18 651h1v1h-1zM112 651h2v1h-2zM502 651h1v1h-1zM796 651h3v1h-3zM802 651h1v1h-1zM1056 651h1v1h-1zM1220 651h2v1h-2zM1231 651h3v1h-3zM1251 651h1v1h-1zM16 652h2v1h-2zM114 652h1v1h-1zM498 652h1v1h-1zM646 652h2v1h-2zM791 652h2v1h-2zM803 652h2v1h-2zM1054 652h2v1h-2zM1102 652h2v1h-2zM1225 652h3v1h-3zM1255 652h3v1h-3zM496 653h2v1h-2zM648 653h1v1h-1zM790 653h1v1h-1zM808 653h3v1h-3zM1104 653h1v1h-1zM1186 653h1v1h-1zM1261 653h1v1h-1zM12 654h1v1h-1zM118 654h2v1h-2zM492 654h1v1h-1zM652 654h2v1h-2zM784 654h3v1h-3zM814 654h1v1h-1zM1050 654h1v1h-1zM1262 654h2v1h-2zM10 655h2v1h-2zM120 655h1v1h-1zM490 655h2v1h-2zM654 655h1v1h-1zM815 655h2v1h-2zM1048 655h2v1h-2zM382 656h3v1h-3zM658 656h1v1h-1zM779 656h2v1h-2zM1267 656h2v1h-2zM4 657h3v1h-3zM124 657h3v1h-3zM376 657h3v1h-3zM388 657h2v1h-2zM486 657h1v1h-1zM659 657h2v1h-2zM736 657h3v1h-3zM742 657h3v1h-3zM778 657h1v1h-1zM820 657h2v1h-2zM1044 657h1v1h-1zM1108 657h1v1h-1zM371 658h2v1h-2zM390 658h1v1h-1zM484 658h2v1h-2zM730 658h3v1h-3zM748 658h3v1h-3zM754 658h1v1h-1zM772 658h3v1h-3zM822 658h1v1h-1zM1042 658h2v1h-2zM1109 658h2v1h-2zM130 659h2v1h-2zM370 659h1v1h-1zM664 659h3v1h-3zM683 659h2v1h-2zM688 659h3v1h-3zM694 659h1v1h-1zM724 659h3v1h-3zM755 659h2v1h-2zM760 659h3v1h-3zM766 659h3v1h-3zM132 660h1v1h-1zM366 660h1v1h-1zM394 660h2v1h-2zM479 660h2v1h-2zM670 660h3v1h-3zM676 660h3v1h-3zM682 660h1v1h-1zM695 660h2v1h-2zM700 660h3v1h-3zM719 660h2v1h-2zM826 660h2v1h-2zM1038 660h1v1h-1zM136 661h3v1h-3zM364 661h2v1h-2zM396 661h1v1h-1zM478 661h1v1h-1zM706 661h3v1h-3zM712 661h3v1h-3zM718 661h1v1h-1zM828 661h1v1h-1zM1036 661h2v1h-2zM1181 661h1v1h-1zM142 662h1v1h-1zM322 662h3v1h-3zM328 662h3v1h-3zM358 662h3v1h-3zM474 662h1v1h-1zM832 662h2v1h-2zM1031 662h2v1h-2zM1114 662h1v1h-1zM143 663h2v1h-2zM316 663h3v1h-3zM334 663h3v1h-3zM340 663h3v1h-3zM347 663h2v1h-2zM352 663h3v1h-3zM472 663h2v1h-2zM834 663h1v1h-1zM1030 663h1v1h-1zM1115 663h1v1h-1zM148 664h3v1h-3zM312 664h1v1h-1zM346 664h1v1h-1zM400 664h2v1h-2zM468 664h1v1h-1zM838 664h1v1h-1zM1024 664h3v1h-3zM1116 664h1v1h-1zM154 665h1v1h-1zM310 665h2v1h-2zM402 665h1v1h-1zM466 665h2v1h-2zM839 665h2v1h-2zM1019 665h2v1h-2zM1179 665h1v1h-1zM155 666h2v1h-2zM844 666h2v1h-2zM1007 666h2v1h-2zM1012 666h3v1h-3zM1018 666h1v1h-1zM160 667h3v1h-3zM166 667h1v1h-1zM306 667h1v1h-1zM406 667h1v1h-1zM460 667h3v1h-3zM846 667h1v1h-1zM1000 667h3v1h-3zM1006 667h1v1h-1zM167 668h2v1h-2zM304 668h2v1h-2zM407 668h1v1h-1zM455 668h2v1h-2zM850 668h1v1h-1zM996 668h1v1h-1zM1119 668h1v1h-1zM172 669h3v1h-3zM408 669h1v1h-1zM454 669h1v1h-1zM851 669h2v1h-2zM994 669h2v1h-2zM1120 669h1v1h-1zM178 670h1v1h-1zM300 670h1v1h-1zM450 670h1v1h-1zM856 670h3v1h-3zM1121 670h1v1h-1zM179 671h2v1h-2zM299 671h1v1h-1zM448 671h2v1h-2zM862 671h1v1h-1zM988 671h3v1h-3zM298 672h1v1h-1zM412 672h2v1h-2zM444 672h1v1h-1zM863 672h2v1h-2zM868 672h3v1h-3zM984 672h1v1h-1zM184 673h2v1h-2zM414 673h1v1h-1zM442 673h2v1h-2zM874 673h3v1h-3zM880 673h3v1h-3zM982 673h2v1h-2zM1174 673h1v1h-1zM186 674h1v1h-1zM886 674h3v1h-3zM976 674h3v1h-3zM1124 674h1v1h-1zM294 675h1v1h-1zM418 675h2v1h-2zM436 675h3v1h-3zM892 675h3v1h-3zM970 675h3v1h-3zM190 676h2v1h-2zM232 676h3v1h-3zM238 676h1v1h-1zM293 676h1v1h-1zM420 676h1v1h-1zM424 676h3v1h-3zM431 676h2v1h-2zM958 676h3v1h-3zM964 676h3v1h-3zM192 677h1v1h-1zM227 677h2v1h-2zM239 677h2v1h-2zM292 677h1v1h-1zM430 677h1v1h-1zM898 677h2v1h-2zM947 677h2v1h-2zM952 677h3v1h-3zM226 678h1v1h-1zM900 678h1v1h-1zM940 678h3v1h-3zM946 678h1v1h-1zM196 679h2v1h-2zM222 679h1v1h-1zM244 679h2v1h-2zM904 679h3v1h-3zM936 679h1v1h-1zM1171 679h1v1h-1zM198 680h1v1h-1zM220 680h2v1h-2zM246 680h1v1h-1zM288 680h1v1h-1zM910 680h1v1h-1zM934 680h2v1h-2zM1128 680h1v1h-1zM202 681h1v1h-1zM215 681h2v1h-2zM287 681h1v1h-1zM911 681h2v1h-2zM928 681h3v1h-3zM203 682h2v1h-2zM214 682h1v1h-1zM250 682h2v1h-2zM286 682h1v1h-1zM916 682h3v1h-3zM922 682h3v1h-3zM208 683h3v1h-3zM252 683h1v1h-1zM282 685h1v1h-1zM1168 685h1v1h-1zM256 686h2v1h-2zM280 686h2v1h-2zM1132 686h1v1h-1zM258 687h1v1h-1zM1133 687h1v1h-1zM1134 688h1v1h-1zM262 689h2v1h-2zM275 689h2v1h-2zM264 690h1v1h-1zM268 690h3v1h-3zM274 690h1v1h-1zM1165 691h1v1h-1zM1137 692h1v1h-1zM1138 693h1v1h-1zM1139 694h1v1h-1zM1143 697h1v1h-1zM1161 697h1v1h-1zM1144 698h2v1h-2zM1149 700h2v1h-2zM1155 700h3v1h-3zM1151 701h1v1h-1z" fill="#ff0000"/>
<rect x="1597" y="626" width="2" height="1" fill="#000"/>
<text x="1600.5" y="635.2" font-size="9.8" fill="#000" text-anchor="start" textLength="37.5" lengthAdjust="spacingAndGlyphs">0.006167</text>
<rect x="1597" y="658" width="2" height="1" fill="#000"/>
<text x="1600.5" y="661.6" font-size="9.8" fill="#000" text-anchor="start" textLength="17.5" lengthAdjust="spacingAndGlyphs">0.00</text>
<rect x="1597" y="716" width="2" height="1" fill="#000"/>
<text x="1599.8" y="714" font-size="9.8" fill="#000" text-anchor="start" textLength="41" lengthAdjust="spacingAndGlyphs">-0.011531</text>
<rect x="4" y="718" width="1" height="3" fill="#000"/>
<text x="3.3" y="730" font-size="9.8" fill="#000" text-anchor="start" textLength="50.7" lengthAdjust="spacingAndGlyphs">16 Apr 2019</text>
<rect x="68" y="718" width="1" height="3" fill="#000"/>
<text x="67.3" y="730" font-size="9.8" fill="#000" text-anchor="start" textLength="49.3" lengthAdjust="spacingAndGlyphs">4 May 2019</text>
<rect x="132" y="718" width="1" height="3" fill="#000"/>
<text x="131.3" y="730" font-size="9.8" fill="#000" text-anchor="start" textLength="54.7" lengthAdjust="spacingAndGlyphs">23 May 2019</text>
<rect x="196" y="718" width="1" height="3" fill="#000"/>
<text x="195.3" y="730" font-size="9.8" fill="#000" text-anchor="start" textLength="49.3" lengthAdjust="spacingAndGlyphs">11 Jun 2019</text>
<rect x="260" y="718" width="1" height="3" fill="#000"/>
<text x="259.3" y="730" font-size="9.8" fill="#000" text-anchor="start" textLength="49.7" lengthAdjust="spacingAndGlyphs">29 Jun 2019</text>
<rect x="324" y="718" width="1" height="3" fill="#000"/>
<text x="323.3" y="730" font-size="9.8" fill="#000" text-anchor="start" textLength="46" lengthAdjust="spacingAndGlyphs">18 Jul 2019</text>
<rect x="388" y="718" width="1" height="3" fill="#000"/>
<text x="387.3" y="730" font-size="9.8" fill="#000" text-anchor="start" textLength="47" lengthAdjust="spacingAndGlyphs">6 Aug 2019</text>
<rect x="452" y="718" width="1" height="3" fill="#000"/>
<text x="451.3" y="730" font-size="9.8" fill="#000" text-anchor="start" textLength="51.7" lengthAdjust="spacingAndGlyphs">24 Aug 2019</text>
<rect x="516" y="718" width="1" height="3" fill="#000"/>
<text x="515.3" y="730" font-size="9.8" fill="#000" text-anchor="start" textLength="51" lengthAdjust="spacingAndGlyphs">12 Sep 2019</text>
<rect x="580" y="718" width="1" height="3" fill="#000"/>
<text x="579.3" y="730" font-size="9.8" fill="#000" text-anchor="start" textLength="45" lengthAdjust="spacingAndGlyphs">1 Oct 2019</text>
<rect x="644" y="718" width="1" height="3" fill="#000"/>
<text x="643.3" y="730" font-size="9.8" fill="#000" text-anchor="start" textLength="50" lengthAdjust="spacingAndGlyphs">19 Oct 2019</text>
<rect x="708" y="718" width="1" height="3" fill="#000"/>
<text x="707.3" y="730" font-size="9.8" fill="#000" text-anchor="start" textLength="48.3" lengthAdjust="spacingAndGlyphs">7 Nov 2019</text>
<rect x="772" y="718" width="1" height="3" fill="#000"/>
<text x="771.3" y="730" font-size="9.8" fill="#000" text-anchor="start" textLength="53.3" lengthAdjust="spacingAndGlyphs">26 Nov 2019</text>
<rect x="836" y="718" width="1" height="3" fill="#000"/>
<text x="835.3" y="730" font-size="9.8" fill="#000" text-anchor="start" textLength="51" lengthAdjust="spacingAndGlyphs">14 Dec 2019</text>
<rect x="900" y="718" width="1" height="3" fill="#000"/>
<text x="899.3" y="730" font-size="9.8" fill="#000" text-anchor="start" textLength="44" lengthAdjust="spacingAndGlyphs">2 Jan 2020</text>
<rect x="964" y="718" width="1" height="3" fill="#000"/>
<text x="963.3" y="730" font-size="9.8" fill="#000" text-anchor="start" textLength="49" lengthAdjust="spacingAndGlyphs">21 Jan 2020</text>
<rect x="1028" y="718" width="1" height="3" fill="#000"/>
<text x="1027.3" y="730" font-size="9.8" fill="#000" text-anchor="start" textLength="46.7" lengthAdjust="spacingAndGlyphs">8 Feb 2020</text>
<rect x="1092" y="718" width="1" height="3" fill="#000"/>
<text x="1091.3" y="730" font-size="9.8" fill="#000" text-anchor="start" textLength="51.4" lengthAdjust="spacingAndGlyphs">27 Feb 2020</text>
<rect x="1156" y="718" width="1" height="3" fill="#000"/>
<text x="1155.3" y="730" font-size="9.8" fill="#000" text-anchor="start" textLength="50.6" lengthAdjust="spacingAndGlyphs">17 Mar 2020</text>
<rect x="1220" y="718" width="1" height="3" fill="#000"/>
<text x="1219.3" y="730" font-size="9.8" fill="#000" text-anchor="start" textLength="45.6" lengthAdjust="spacingAndGlyphs">4 Apr 2020</text>
<rect x="0" y="738" width="1638" height="1" fill="#e3e3e3"/>
<rect x="0" y="739" width="1638" height="1" fill="#ffffff"/>
<rect x="0" y="740" width="1638" height="1" fill="#000"/>
<rect x="0" y="741" width="1638" height="18" fill="#f0f0f0"/>
<rect x="0" y="759" width="1638" height="2" fill="#fafafa"/>
<rect x="1" y="741" width="108" height="1" fill="#ffffff"/>
<rect x="108" y="741" width="1" height="17" fill="#ffffff"/>
<rect x="110" y="739" width="98" height="19" fill="#fff"/>
<rect x="109" y="740" width="1" height="19" fill="#000"/>
<rect x="208" y="740" width="1" height="19" fill="#000"/>
<rect x="109" y="758" width="100" height="1" fill="#000"/>
<rect x="0" y="741" width="1" height="18" fill="#a0a0a0"/>
<text x="17.3" y="755" font-size="12.3" fill="#6a6a6a" text-anchor="start" textLength="79.3" lengthAdjust="spacingAndGlyphs">EURUSD,Daily</text>
<text x="119.3" y="755" font-size="12.3" fill="#000" text-anchor="start" textLength="79" lengthAdjust="spacingAndGlyphs">USDCHF,Daily</text>
<text x="220" y="755" font-size="12.3" fill="#6a6a6a" text-anchor="start" textLength="81.7" lengthAdjust="spacingAndGlyphs">AUDUSD,Daily</text>
<rect x="313" y="743" width="1" height="14" fill="#808080"/>
<text x="324" y="755" font-size="12.3" fill="#6a6a6a" text-anchor="start" textLength="81" lengthAdjust="spacingAndGlyphs">USDCAD,Daily</text>
<rect x="417" y="743" width="1" height="14" fill="#808080"/>
<text x="427.3" y="755" font-size="12.3" fill="#6a6a6a" text-anchor="start" textLength="82.7" lengthAdjust="spacingAndGlyphs">USDCNH,Daily</text>
<rect x="521" y="743" width="1" height="14" fill="#808080"/>
<text x="533.3" y="755" font-size="12.3" fill="#6a6a6a" text-anchor="start" textLength="80" lengthAdjust="spacingAndGlyphs">EURUSD,Daily</text>
<rect x="625" y="743" width="1" height="14" fill="#808080"/>
<text x="635" y="755" font-size="12.3" fill="#6a6a6a" text-anchor="start" textLength="70.7" lengthAdjust="spacingAndGlyphs">GBPUSD,M5</text>
<rect x="717" y="743" width="1" height="14" fill="#808080"/>
<text x="727.7" y="755" font-size="12.3" fill="#6a6a6a" text-anchor="start" textLength="69" lengthAdjust="spacingAndGlyphs">XAUUSD,H1</text>
<rect x="809" y="743" width="1" height="14" fill="#808080"/>
<text x="820" y="755" font-size="12.3" fill="#6a6a6a" text-anchor="start" textLength="49.3" lengthAdjust="spacingAndGlyphs">HK50,H1</text>
<rect x="881" y="743" width="1" height="14" fill="#808080"/>
<text x="892.3" y="755" font-size="12.3" fill="#6a6a6a" text-anchor="start" textLength="56" lengthAdjust="spacingAndGlyphs">UK100,H1</text>
<rect x="961" y="743" width="1" height="14" fill="#808080"/>
<text x="972.3" y="755" font-size="12.3" fill="#6a6a6a" text-anchor="start" textLength="56" lengthAdjust="spacingAndGlyphs">UK100,H1</text>
<rect x="1041" y="743" width="1" height="14" fill="#808080"/>
<text x="1051.8" y="755" font-size="12.3" fill="#6a6a6a" text-anchor="start" textLength="57.3" lengthAdjust="spacingAndGlyphs">GER30,H1</text>
<rect x="1121" y="743" width="1" height="14" fill="#808080"/>
<text x="1131.3" y="755" font-size="12.3" fill="#6a6a6a" text-anchor="start" textLength="54.5" lengthAdjust="spacingAndGlyphs">FRA40,H1</text>
<rect x="1197" y="743" width="1" height="14" fill="#808080"/>
<text x="1207.2" y="755" font-size="12.3" fill="#6a6a6a" text-anchor="start" textLength="50.6" lengthAdjust="spacingAndGlyphs">USOil,H1</text>
<rect x="1269" y="743" width="1" height="14" fill="#808080"/>
<text x="1279.3" y="755" font-size="12.3" fill="#6a6a6a" text-anchor="start" textLength="62.3" lengthAdjust="spacingAndGlyphs">USDJPY,H1</text>
<rect x="1353" y="743" width="1" height="14" fill="#808080"/>
<path d="M1615 745.5 L1615 752 L1611.5 748.75 Z" fill="#a0a0a0" shape-rendering="geometricPrecision"/>
<path d="M1630.7 745.5 L1630.7 752 L1634.4 748.75 Z" fill="#808080" shape-rendering="geometricPrecision"/>
</svg>
</body></html>
